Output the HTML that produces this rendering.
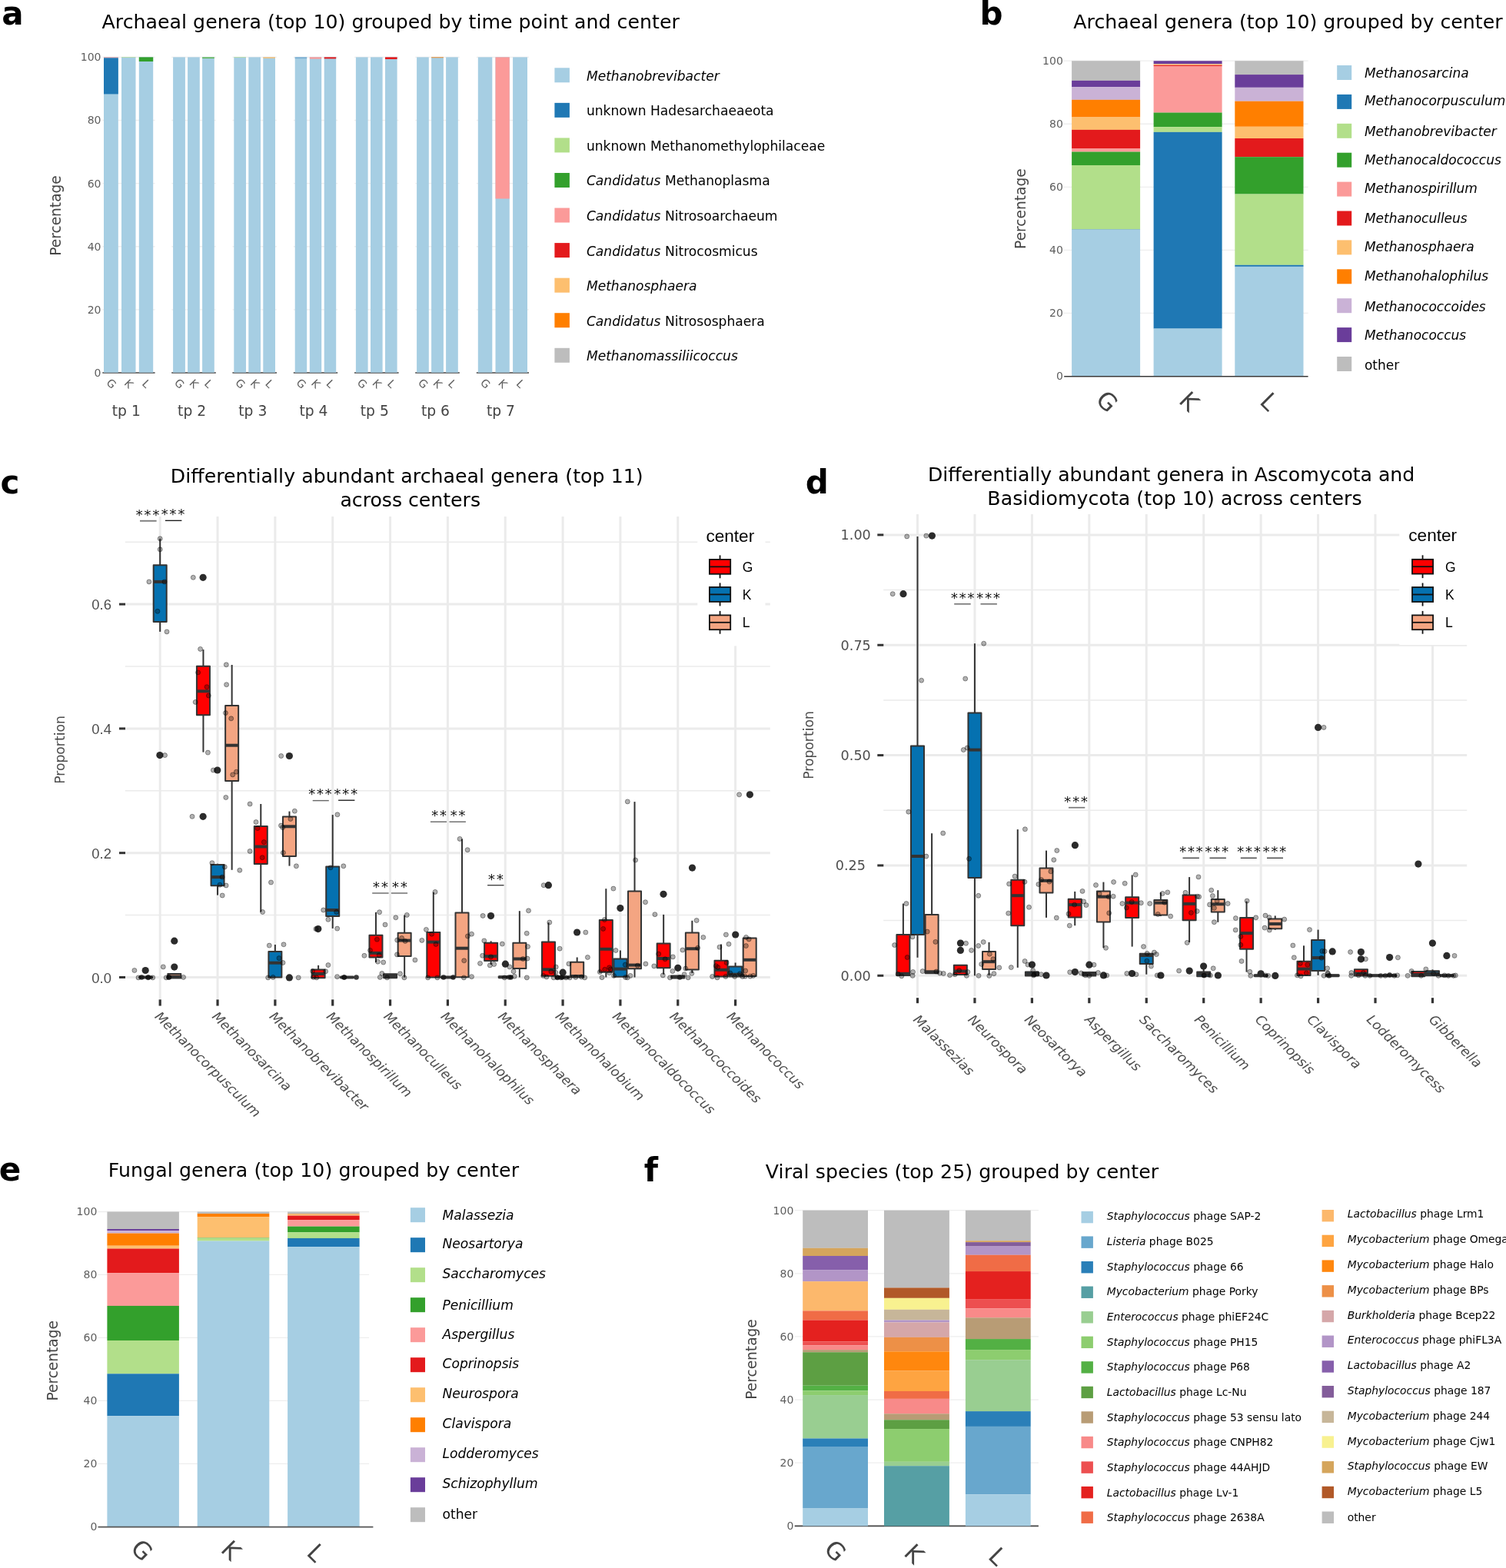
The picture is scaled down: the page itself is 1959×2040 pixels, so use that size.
<!DOCTYPE html>
<html lang="en"><head><meta charset="utf-8"><title>Figure</title>
<style>
html,body{margin:0;padding:0;background:#fff;}
body{width:1959px;height:2040px;overflow:hidden;}
svg{display:block;font-family:'DejaVu Sans','Liberation Sans',sans-serif;}
</style></head>
<body>
<svg xmlns="http://www.w3.org/2000/svg" width="1959" height="2040" viewBox="0 0 1959 2040">
<rect x="0" y="0" width="1959" height="2040" fill="#ffffff"/>
<g id="panel_a">
<text x="2.35" y="31.95" font-size="42" fill="#000" font-weight="bold">a</text>
<text x="132.55" y="37.2" font-size="25.2" fill="#000" textLength="751.3">Archaeal genera (top 10) grouped by time point and center</text>
<line x1="133.3" y1="402.88" x2="201.6" y2="402.88" stroke="#eeeeee" stroke-width="1.3"/>
<line x1="133.3" y1="320.76" x2="201.6" y2="320.76" stroke="#eeeeee" stroke-width="1.3"/>
<line x1="133.3" y1="238.64" x2="201.6" y2="238.64" stroke="#eeeeee" stroke-width="1.3"/>
<line x1="133.3" y1="156.52" x2="201.6" y2="156.52" stroke="#eeeeee" stroke-width="1.3"/>
<line x1="133.3" y1="74.4" x2="201.6" y2="74.4" stroke="#eeeeee" stroke-width="1.3"/>
<line x1="133.3" y1="485" x2="201.6" y2="485" stroke="#444444" stroke-width="1.6"/>
<line x1="223.2" y1="402.88" x2="280.8" y2="402.88" stroke="#eeeeee" stroke-width="1.3"/>
<line x1="223.2" y1="320.76" x2="280.8" y2="320.76" stroke="#eeeeee" stroke-width="1.3"/>
<line x1="223.2" y1="238.64" x2="280.8" y2="238.64" stroke="#eeeeee" stroke-width="1.3"/>
<line x1="223.2" y1="156.52" x2="280.8" y2="156.52" stroke="#eeeeee" stroke-width="1.3"/>
<line x1="223.2" y1="74.4" x2="280.8" y2="74.4" stroke="#eeeeee" stroke-width="1.3"/>
<line x1="223.2" y1="485" x2="280.8" y2="485" stroke="#444444" stroke-width="1.6"/>
<line x1="302.4" y1="402.88" x2="360" y2="402.88" stroke="#eeeeee" stroke-width="1.3"/>
<line x1="302.4" y1="320.76" x2="360" y2="320.76" stroke="#eeeeee" stroke-width="1.3"/>
<line x1="302.4" y1="238.64" x2="360" y2="238.64" stroke="#eeeeee" stroke-width="1.3"/>
<line x1="302.4" y1="156.52" x2="360" y2="156.52" stroke="#eeeeee" stroke-width="1.3"/>
<line x1="302.4" y1="74.4" x2="360" y2="74.4" stroke="#eeeeee" stroke-width="1.3"/>
<line x1="302.4" y1="485" x2="360" y2="485" stroke="#444444" stroke-width="1.6"/>
<line x1="381.8" y1="402.88" x2="439.2" y2="402.88" stroke="#eeeeee" stroke-width="1.3"/>
<line x1="381.8" y1="320.76" x2="439.2" y2="320.76" stroke="#eeeeee" stroke-width="1.3"/>
<line x1="381.8" y1="238.64" x2="439.2" y2="238.64" stroke="#eeeeee" stroke-width="1.3"/>
<line x1="381.8" y1="156.52" x2="439.2" y2="156.52" stroke="#eeeeee" stroke-width="1.3"/>
<line x1="381.8" y1="74.4" x2="439.2" y2="74.4" stroke="#eeeeee" stroke-width="1.3"/>
<line x1="381.8" y1="485" x2="439.2" y2="485" stroke="#444444" stroke-width="1.6"/>
<line x1="461" y1="402.88" x2="518.6" y2="402.88" stroke="#eeeeee" stroke-width="1.3"/>
<line x1="461" y1="320.76" x2="518.6" y2="320.76" stroke="#eeeeee" stroke-width="1.3"/>
<line x1="461" y1="238.64" x2="518.6" y2="238.64" stroke="#eeeeee" stroke-width="1.3"/>
<line x1="461" y1="156.52" x2="518.6" y2="156.52" stroke="#eeeeee" stroke-width="1.3"/>
<line x1="461" y1="74.4" x2="518.6" y2="74.4" stroke="#eeeeee" stroke-width="1.3"/>
<line x1="461" y1="485" x2="518.6" y2="485" stroke="#444444" stroke-width="1.6"/>
<line x1="540.2" y1="402.88" x2="597.8" y2="402.88" stroke="#eeeeee" stroke-width="1.3"/>
<line x1="540.2" y1="320.76" x2="597.8" y2="320.76" stroke="#eeeeee" stroke-width="1.3"/>
<line x1="540.2" y1="238.64" x2="597.8" y2="238.64" stroke="#eeeeee" stroke-width="1.3"/>
<line x1="540.2" y1="156.52" x2="597.8" y2="156.52" stroke="#eeeeee" stroke-width="1.3"/>
<line x1="540.2" y1="74.4" x2="597.8" y2="74.4" stroke="#eeeeee" stroke-width="1.3"/>
<line x1="540.2" y1="485" x2="597.8" y2="485" stroke="#444444" stroke-width="1.6"/>
<line x1="619.8" y1="402.88" x2="688" y2="402.88" stroke="#eeeeee" stroke-width="1.3"/>
<line x1="619.8" y1="320.76" x2="688" y2="320.76" stroke="#eeeeee" stroke-width="1.3"/>
<line x1="619.8" y1="238.64" x2="688" y2="238.64" stroke="#eeeeee" stroke-width="1.3"/>
<line x1="619.8" y1="156.52" x2="688" y2="156.52" stroke="#eeeeee" stroke-width="1.3"/>
<line x1="619.8" y1="74.4" x2="688" y2="74.4" stroke="#eeeeee" stroke-width="1.3"/>
<line x1="619.8" y1="485" x2="688" y2="485" stroke="#444444" stroke-width="1.6"/>
<rect x="135" y="74.4" width="18.8" height="410.3" fill="#a6cee3"/>
<rect x="135" y="74.4" width="18.8" height="1" fill="#fb9a99"/>
<rect x="135" y="75.4" width="18.8" height="47" fill="#1f78b4"/>
<rect x="158" y="74.4" width="18.5" height="410.3" fill="#a6cee3"/>
<rect x="158" y="74.4" width="18.5" height="0.6" fill="#b2df8a"/>
<rect x="180.8" y="74.4" width="18.4" height="410.3" fill="#a6cee3"/>
<rect x="180.8" y="74.4" width="18.4" height="5.6" fill="#33a02c"/>
<rect x="225.1" y="74.4" width="15.8" height="410.3" fill="#a6cee3"/>
<rect x="244.1" y="74.4" width="15.7" height="410.3" fill="#a6cee3"/>
<rect x="263.1" y="74.4" width="15.7" height="410.3" fill="#a6cee3"/>
<rect x="263.1" y="74.4" width="15.7" height="1.7" fill="#66b95e"/>
<rect x="304.3" y="74.4" width="15.7" height="410.3" fill="#a6cee3"/>
<rect x="304.3" y="74.4" width="15.7" height="0.6" fill="#b2df8a"/>
<rect x="323.3" y="74.4" width="15.7" height="410.3" fill="#a6cee3"/>
<rect x="342.3" y="74.4" width="15.7" height="410.3" fill="#a6cee3"/>
<rect x="342.3" y="74.4" width="15.7" height="1.4" fill="#fdbf6f"/>
<rect x="383.7" y="74.4" width="15.5" height="410.3" fill="#a6cee3"/>
<rect x="383.7" y="74.4" width="15.5" height="1.8" fill="#7bafd3"/>
<rect x="402.8" y="74.4" width="15.4" height="410.3" fill="#a6cee3"/>
<rect x="402.8" y="74.4" width="15.4" height="2.2" fill="#fb9a99"/>
<rect x="421.7" y="74.4" width="15.5" height="410.3" fill="#a6cee3"/>
<rect x="421.7" y="74.4" width="15.5" height="2" fill="#e31a1c"/>
<rect x="462.9" y="74.4" width="15.7" height="410.3" fill="#a6cee3"/>
<rect x="482" y="74.4" width="15.6" height="410.3" fill="#a6cee3"/>
<rect x="501" y="74.4" width="15.6" height="410.3" fill="#a6cee3"/>
<rect x="501" y="74.4" width="15.6" height="2.6" fill="#e31a1c"/>
<rect x="542.1" y="74.4" width="15.7" height="410.3" fill="#a6cee3"/>
<rect x="561.1" y="74.4" width="15.8" height="410.3" fill="#a6cee3"/>
<rect x="561.1" y="74.4" width="15.8" height="0.8" fill="#ff7f00"/>
<rect x="580.1" y="74.4" width="15.7" height="410.3" fill="#a6cee3"/>
<rect x="621.8" y="74.4" width="18.5" height="410.3" fill="#a6cee3"/>
<rect x="644.5" y="74.4" width="18.3" height="410.3" fill="#a6cee3"/>
<rect x="644.5" y="74.4" width="18.3" height="184.1" fill="#fb9a99"/>
<rect x="667.1" y="74.4" width="18.9" height="410.3" fill="#a6cee3"/>
<text x="131.5" y="489.9" font-size="14" fill="#5e5e5e" text-anchor="end">0</text>
<text x="131.5" y="407.78" font-size="14" fill="#5e5e5e" text-anchor="end">20</text>
<text x="131.5" y="325.66" font-size="14" fill="#5e5e5e" text-anchor="end">40</text>
<text x="131.5" y="243.54" font-size="14" fill="#5e5e5e" text-anchor="end">60</text>
<text x="131.5" y="161.42" font-size="14" fill="#5e5e5e" text-anchor="end">80</text>
<text x="131.5" y="79.3" font-size="14" fill="#5e5e5e" text-anchor="end">100</text>
<text transform="translate(72.6,280.5) rotate(-90)" font-size="18.6" fill="#444" text-anchor="middle" dy="6.5">Percentage</text>
<text x="164.3" y="541.2" font-size="18.7" fill="#444" text-anchor="middle">tp 1</text>
<text x="249.6" y="541.2" font-size="18.7" fill="#444" text-anchor="middle">tp 2</text>
<text x="328.8" y="541.2" font-size="18.7" fill="#444" text-anchor="middle">tp 3</text>
<text x="408" y="541.2" font-size="18.7" fill="#444" text-anchor="middle">tp 4</text>
<text x="487.3" y="541.2" font-size="18.7" fill="#444" text-anchor="middle">tp 5</text>
<text x="566.5" y="541.2" font-size="18.7" fill="#444" text-anchor="middle">tp 6</text>
<text x="651.4" y="541.2" font-size="18.7" fill="#444" text-anchor="middle">tp 7</text>
<text transform="translate(144.9,499.1) rotate(45)" font-size="14.2" fill="#5e5e5e" text-anchor="middle" dy="5.1">G</text>
<text transform="translate(167.75,499.1) rotate(45)" font-size="14.2" fill="#5e5e5e" text-anchor="middle" dy="5.1">K</text>
<text transform="translate(190.5,499.1) rotate(45)" font-size="14.2" fill="#5e5e5e" text-anchor="middle" dy="5.1">L</text>
<text transform="translate(233.5,499.1) rotate(45)" font-size="14.2" fill="#5e5e5e" text-anchor="middle" dy="5.1">G</text>
<text transform="translate(252.45,499.1) rotate(45)" font-size="14.2" fill="#5e5e5e" text-anchor="middle" dy="5.1">K</text>
<text transform="translate(271.45,499.1) rotate(45)" font-size="14.2" fill="#5e5e5e" text-anchor="middle" dy="5.1">L</text>
<text transform="translate(312.65,499.1) rotate(45)" font-size="14.2" fill="#5e5e5e" text-anchor="middle" dy="5.1">G</text>
<text transform="translate(331.65,499.1) rotate(45)" font-size="14.2" fill="#5e5e5e" text-anchor="middle" dy="5.1">K</text>
<text transform="translate(350.65,499.1) rotate(45)" font-size="14.2" fill="#5e5e5e" text-anchor="middle" dy="5.1">L</text>
<text transform="translate(391.95,499.1) rotate(45)" font-size="14.2" fill="#5e5e5e" text-anchor="middle" dy="5.1">G</text>
<text transform="translate(411,499.1) rotate(45)" font-size="14.2" fill="#5e5e5e" text-anchor="middle" dy="5.1">K</text>
<text transform="translate(429.95,499.1) rotate(45)" font-size="14.2" fill="#5e5e5e" text-anchor="middle" dy="5.1">L</text>
<text transform="translate(471.25,499.1) rotate(45)" font-size="14.2" fill="#5e5e5e" text-anchor="middle" dy="5.1">G</text>
<text transform="translate(490.3,499.1) rotate(45)" font-size="14.2" fill="#5e5e5e" text-anchor="middle" dy="5.1">K</text>
<text transform="translate(509.3,499.1) rotate(45)" font-size="14.2" fill="#5e5e5e" text-anchor="middle" dy="5.1">L</text>
<text transform="translate(550.45,499.1) rotate(45)" font-size="14.2" fill="#5e5e5e" text-anchor="middle" dy="5.1">G</text>
<text transform="translate(569.5,499.1) rotate(45)" font-size="14.2" fill="#5e5e5e" text-anchor="middle" dy="5.1">K</text>
<text transform="translate(588.45,499.1) rotate(45)" font-size="14.2" fill="#5e5e5e" text-anchor="middle" dy="5.1">L</text>
<text transform="translate(631.55,499.1) rotate(45)" font-size="14.2" fill="#5e5e5e" text-anchor="middle" dy="5.1">G</text>
<text transform="translate(654.15,499.1) rotate(45)" font-size="14.2" fill="#5e5e5e" text-anchor="middle" dy="5.1">K</text>
<text transform="translate(677.05,499.1) rotate(45)" font-size="14.2" fill="#5e5e5e" text-anchor="middle" dy="5.1">L</text>
<rect x="721.4" y="88.3" width="19.5" height="19" fill="#a6cee3"/>
<text x="762.9" y="104.7" font-size="17.1" fill="#000" xml:space="preserve"><tspan font-style="italic">Methanobrevibacter</tspan></text>
<rect x="721.4" y="133.86" width="19.5" height="19" fill="#1f78b4"/>
<text x="762.9" y="150.26" font-size="17.1" fill="#000" xml:space="preserve">unknown Hadesarchaeaeota</text>
<rect x="721.4" y="179.42" width="19.5" height="19" fill="#b2df8a"/>
<text x="762.9" y="195.82" font-size="17.1" fill="#000" xml:space="preserve">unknown Methanomethylophilaceae</text>
<rect x="721.4" y="224.98" width="19.5" height="19" fill="#33a02c"/>
<text x="762.9" y="241.38" font-size="17.1" fill="#000" xml:space="preserve"><tspan font-style="italic">Candidatus</tspan> Methanoplasma</text>
<rect x="721.4" y="270.54" width="19.5" height="19" fill="#fb9a99"/>
<text x="762.9" y="286.94" font-size="17.1" fill="#000" xml:space="preserve"><tspan font-style="italic">Candidatus</tspan> Nitrosoarchaeum</text>
<rect x="721.4" y="316.1" width="19.5" height="19" fill="#e31a1c"/>
<text x="762.9" y="332.5" font-size="17.1" fill="#000" xml:space="preserve"><tspan font-style="italic">Candidatus</tspan> Nitrocosmicus</text>
<rect x="721.4" y="361.66" width="19.5" height="19" fill="#fdbf6f"/>
<text x="762.9" y="378.06" font-size="17.1" fill="#000" xml:space="preserve"><tspan font-style="italic">Methanosphaera</tspan></text>
<rect x="721.4" y="407.22" width="19.5" height="19" fill="#ff7f00"/>
<text x="762.9" y="423.62" font-size="17.1" fill="#000" xml:space="preserve"><tspan font-style="italic">Candidatus</tspan> Nitrososphaera</text>
<rect x="721.4" y="452.78" width="19.5" height="19" fill="#bdbdbd"/>
<text x="762.9" y="469.18" font-size="17.1" fill="#000" xml:space="preserve"><tspan font-style="italic">Methanomassiliicoccus</tspan></text>
</g>
<g id="panel_b">
<text x="1274.47" y="31.95" font-size="42" fill="#000" font-weight="bold">b</text>
<text x="1396.3" y="37.2" font-size="25.2" fill="#000" textLength="558.4">Archaeal genera (top 10) grouped by center</text>
<line x1="1384.2" y1="407.36" x2="1701.6" y2="407.36" stroke="#eeeeee" stroke-width="1.3"/>
<line x1="1384.2" y1="325.32" x2="1701.6" y2="325.32" stroke="#eeeeee" stroke-width="1.3"/>
<line x1="1384.2" y1="243.28" x2="1701.6" y2="243.28" stroke="#eeeeee" stroke-width="1.3"/>
<line x1="1384.2" y1="161.24" x2="1701.6" y2="161.24" stroke="#eeeeee" stroke-width="1.3"/>
<line x1="1384.2" y1="79.2" x2="1701.6" y2="79.2" stroke="#eeeeee" stroke-width="1.3"/>
<rect x="1394.1" y="79.22" width="89" height="25.71" fill="#bdbdbd"/>
<rect x="1394.1" y="104.89" width="89" height="8.23" fill="#6a3d9a"/>
<rect x="1394.1" y="113.07" width="89" height="16.79" fill="#cab2d6"/>
<rect x="1394.1" y="129.81" width="89" height="22.74" fill="#ff7f00"/>
<rect x="1394.1" y="152.5" width="89" height="16.42" fill="#fdbf6f"/>
<rect x="1394.1" y="168.86" width="89" height="24.6" fill="#e31a1c"/>
<rect x="1394.1" y="193.41" width="89" height="4.14" fill="#fb9a99"/>
<rect x="1394.1" y="197.5" width="89" height="17.53" fill="#33a02c"/>
<rect x="1394.1" y="214.98" width="89" height="83.48" fill="#b2df8a"/>
<rect x="1394.1" y="298.41" width="89" height="0.42" fill="#1f78b4"/>
<rect x="1394.1" y="298.78" width="89" height="190.74" fill="#a6cee3"/>
<rect x="1500.6" y="79.22" width="89" height="4.14" fill="#6a3d9a"/>
<rect x="1500.6" y="83.31" width="89" height="1.46" fill="#fdbf6f"/>
<rect x="1500.6" y="84.73" width="89" height="1.24" fill="#e31a1c"/>
<rect x="1500.6" y="85.92" width="89" height="60.68" fill="#fb9a99"/>
<rect x="1500.6" y="146.54" width="89" height="18.65" fill="#33a02c"/>
<rect x="1500.6" y="165.14" width="89" height="6.74" fill="#b2df8a"/>
<rect x="1500.6" y="171.84" width="89" height="255.76" fill="#1f78b4"/>
<rect x="1500.6" y="427.55" width="89" height="61.98" fill="#a6cee3"/>
<rect x="1606.3" y="79.22" width="89.2" height="17.9" fill="#bdbdbd"/>
<rect x="1606.3" y="97.08" width="89.2" height="16.79" fill="#6a3d9a"/>
<rect x="1606.3" y="113.81" width="89.2" height="17.9" fill="#cab2d6"/>
<rect x="1606.3" y="131.67" width="89.2" height="33.15" fill="#ff7f00"/>
<rect x="1606.3" y="164.77" width="89.2" height="15.3" fill="#fdbf6f"/>
<rect x="1606.3" y="180.02" width="89.2" height="24.23" fill="#e31a1c"/>
<rect x="1606.3" y="204.2" width="89.2" height="48.4" fill="#33a02c"/>
<rect x="1606.3" y="252.55" width="89.2" height="92.29" fill="#b2df8a"/>
<rect x="1606.3" y="344.79" width="89.2" height="2.1" fill="#1f78b4"/>
<rect x="1606.3" y="346.83" width="89.2" height="142.69" fill="#a6cee3"/>
<line x1="1384.2" y1="489.7" x2="1701.6" y2="489.7" stroke="#3a3a3a" stroke-width="1.4"/>
<text x="1382.8" y="494.3" font-size="14" fill="#5e5e5e" text-anchor="end">0</text>
<text x="1382.8" y="412.26" font-size="14" fill="#5e5e5e" text-anchor="end">20</text>
<text x="1382.8" y="330.22" font-size="14" fill="#5e5e5e" text-anchor="end">40</text>
<text x="1382.8" y="248.18" font-size="14" fill="#5e5e5e" text-anchor="end">60</text>
<text x="1382.8" y="166.14" font-size="14" fill="#5e5e5e" text-anchor="end">80</text>
<text x="1382.8" y="84.1" font-size="14" fill="#5e5e5e" text-anchor="end">100</text>
<text transform="translate(1327,271.6) rotate(-90)" font-size="18.6" fill="#444" text-anchor="middle" dy="6.5">Percentage</text>
<text transform="translate(1440.5,522) rotate(45)" font-size="31" fill="#444" text-anchor="middle" dy="11.3">G</text>
<text transform="translate(1547.1,522) rotate(45)" font-size="31" fill="#444" text-anchor="middle" dy="11.3">K</text>
<text transform="translate(1651.3,522) rotate(45)" font-size="31" fill="#444" text-anchor="middle" dy="11.3">L</text>
<rect x="1739.2" y="85" width="19" height="19" fill="#a6cee3"/>
<text x="1774.9" y="100.75" font-size="17" fill="#000" font-style="italic">Methanosarcina</text>
<rect x="1739.2" y="122.9" width="19" height="19" fill="#1f78b4"/>
<text x="1774.9" y="136.8" font-size="17" fill="#000" font-style="italic">Methanocorpusculum</text>
<rect x="1739.2" y="160.8" width="19" height="19" fill="#b2df8a"/>
<text x="1774.9" y="176.8" font-size="17" fill="#000" font-style="italic">Methanobrevibacter</text>
<rect x="1739.2" y="198.7" width="19" height="19" fill="#33a02c"/>
<text x="1774.9" y="214.45" font-size="17" fill="#000" font-style="italic">Methanocaldococcus</text>
<rect x="1739.2" y="236.6" width="19" height="19" fill="#fb9a99"/>
<text x="1774.9" y="250.5" font-size="17" fill="#000" font-style="italic">Methanospirillum</text>
<rect x="1739.2" y="274.5" width="19" height="19" fill="#e31a1c"/>
<text x="1774.9" y="289.9" font-size="17" fill="#000" font-style="italic">Methanoculleus</text>
<rect x="1739.2" y="312.4" width="19" height="19" fill="#fdbf6f"/>
<text x="1774.9" y="327.2" font-size="17" fill="#000" font-style="italic">Methanosphaera</text>
<rect x="1739.2" y="350.3" width="19" height="19" fill="#ff7f00"/>
<text x="1774.9" y="365.4" font-size="17" fill="#000" font-style="italic">Methanohalophilus</text>
<rect x="1739.2" y="388.2" width="19" height="19" fill="#cab2d6"/>
<text x="1774.9" y="404.8" font-size="17" fill="#000" font-style="italic">Methanococcoides</text>
<rect x="1739.2" y="426.1" width="19" height="19" fill="#6a3d9a"/>
<text x="1774.9" y="442.2" font-size="17" fill="#000" font-style="italic">Methanococcus</text>
<rect x="1739.2" y="464" width="19" height="19" fill="#bdbdbd"/>
<text x="1774.9" y="481.2" font-size="17" fill="#000">other</text>
</g>
<g id="panel_c">
<text x="0.6" y="642.05" font-size="42" fill="#000" font-weight="bold">c</text>
<text x="221.73" y="628.4" font-size="25.2" fill="#000" textLength="614.94">Differentially abundant archaeal genera (top 11)</text>
<text x="442.39" y="659.3" font-size="25.2" fill="#000" textLength="182.64">across centers</text>
<line x1="162.8" y1="1190.6" x2="1001.8" y2="1190.6" stroke="#ebebeb" stroke-width="1.5"/>
<line x1="162.8" y1="1028.8" x2="1001.8" y2="1028.8" stroke="#ebebeb" stroke-width="1.5"/>
<line x1="162.8" y1="867" x2="1001.8" y2="867" stroke="#ebebeb" stroke-width="1.5"/>
<line x1="162.8" y1="705.2" x2="1001.8" y2="705.2" stroke="#ebebeb" stroke-width="1.5"/>
<line x1="162.8" y1="1271.5" x2="1001.8" y2="1271.5" stroke="#ebebeb" stroke-width="3"/>
<line x1="162.8" y1="1109.7" x2="1001.8" y2="1109.7" stroke="#ebebeb" stroke-width="3"/>
<line x1="162.8" y1="947.9" x2="1001.8" y2="947.9" stroke="#ebebeb" stroke-width="3"/>
<line x1="162.8" y1="786.1" x2="1001.8" y2="786.1" stroke="#ebebeb" stroke-width="3"/>
<line x1="208.2" y1="671.9" x2="208.2" y2="1299.8" stroke="#ebebeb" stroke-width="3"/>
<line x1="283.04" y1="671.9" x2="283.04" y2="1299.8" stroke="#ebebeb" stroke-width="3"/>
<line x1="357.88" y1="671.9" x2="357.88" y2="1299.8" stroke="#ebebeb" stroke-width="3"/>
<line x1="432.72" y1="671.9" x2="432.72" y2="1299.8" stroke="#ebebeb" stroke-width="3"/>
<line x1="507.56" y1="671.9" x2="507.56" y2="1299.8" stroke="#ebebeb" stroke-width="3"/>
<line x1="582.4" y1="671.9" x2="582.4" y2="1299.8" stroke="#ebebeb" stroke-width="3"/>
<line x1="657.24" y1="671.9" x2="657.24" y2="1299.8" stroke="#ebebeb" stroke-width="3"/>
<line x1="732.08" y1="671.9" x2="732.08" y2="1299.8" stroke="#ebebeb" stroke-width="3"/>
<line x1="806.92" y1="671.9" x2="806.92" y2="1299.8" stroke="#ebebeb" stroke-width="3"/>
<line x1="881.76" y1="671.9" x2="881.76" y2="1299.8" stroke="#ebebeb" stroke-width="3"/>
<line x1="956.6" y1="671.9" x2="956.6" y2="1299.8" stroke="#ebebeb" stroke-width="3"/>
<line x1="155" y1="1271.5" x2="163" y2="1271.5" stroke="#333333" stroke-width="3"/>
<text x="144.9" y="1278.7" font-size="18.4" fill="#4d4d4d" text-anchor="end" font-family="'Liberation Sans','DejaVu Sans',sans-serif">0.0</text>
<line x1="155" y1="1109.7" x2="163" y2="1109.7" stroke="#333333" stroke-width="3"/>
<text x="144.9" y="1116.9" font-size="18.4" fill="#4d4d4d" text-anchor="end" font-family="'Liberation Sans','DejaVu Sans',sans-serif">0.2</text>
<line x1="155" y1="947.9" x2="163" y2="947.9" stroke="#333333" stroke-width="3"/>
<text x="144.9" y="955.1" font-size="18.4" fill="#4d4d4d" text-anchor="end" font-family="'Liberation Sans','DejaVu Sans',sans-serif">0.4</text>
<line x1="155" y1="786.1" x2="163" y2="786.1" stroke="#333333" stroke-width="3"/>
<text x="144.9" y="793.3" font-size="18.4" fill="#4d4d4d" text-anchor="end" font-family="'Liberation Sans','DejaVu Sans',sans-serif">0.6</text>
<line x1="208.2" y1="1300.4" x2="208.2" y2="1308.6" stroke="#333333" stroke-width="3.2"/>
<line x1="283.04" y1="1300.4" x2="283.04" y2="1308.6" stroke="#333333" stroke-width="3.2"/>
<line x1="357.88" y1="1300.4" x2="357.88" y2="1308.6" stroke="#333333" stroke-width="3.2"/>
<line x1="432.72" y1="1300.4" x2="432.72" y2="1308.6" stroke="#333333" stroke-width="3.2"/>
<line x1="507.56" y1="1300.4" x2="507.56" y2="1308.6" stroke="#333333" stroke-width="3.2"/>
<line x1="582.4" y1="1300.4" x2="582.4" y2="1308.6" stroke="#333333" stroke-width="3.2"/>
<line x1="657.24" y1="1300.4" x2="657.24" y2="1308.6" stroke="#333333" stroke-width="3.2"/>
<line x1="732.08" y1="1300.4" x2="732.08" y2="1308.6" stroke="#333333" stroke-width="3.2"/>
<line x1="806.92" y1="1300.4" x2="806.92" y2="1308.6" stroke="#333333" stroke-width="3.2"/>
<line x1="881.76" y1="1300.4" x2="881.76" y2="1308.6" stroke="#333333" stroke-width="3.2"/>
<line x1="956.6" y1="1300.4" x2="956.6" y2="1308.6" stroke="#333333" stroke-width="3.2"/>
<text transform="translate(78,975.5) rotate(-90)" font-size="17.2" fill="#4d4d4d" text-anchor="middle" dy="6.2">Proportion</text>
<text transform="translate(200.6,1323.5) rotate(45)" font-size="17.2" fill="#4d4d4d" font-style="italic" dy="0">Methanocorpusculum</text>
<text transform="translate(275,1323.5) rotate(45)" font-size="17.2" fill="#4d4d4d" font-style="italic" dy="0">Methanosarcina</text>
<text transform="translate(349.4,1323.5) rotate(45)" font-size="17.2" fill="#4d4d4d" font-style="italic" dy="0">Methanobrevibacter</text>
<text transform="translate(423.8,1323.5) rotate(45)" font-size="17.2" fill="#4d4d4d" font-style="italic" dy="0">Methanospirillum</text>
<text transform="translate(498.2,1323.5) rotate(45)" font-size="17.2" fill="#4d4d4d" font-style="italic" dy="0">Methanoculleus</text>
<text transform="translate(572.6,1323.5) rotate(45)" font-size="17.2" fill="#4d4d4d" font-style="italic" dy="0">Methanohalophilus</text>
<text transform="translate(647,1323.5) rotate(45)" font-size="17.2" fill="#4d4d4d" font-style="italic" dy="0">Methanosphaera</text>
<text transform="translate(721.4,1323.5) rotate(45)" font-size="17.2" fill="#4d4d4d" font-style="italic" dy="0">Methanohalobium</text>
<text transform="translate(795.8,1323.5) rotate(45)" font-size="17.2" fill="#4d4d4d" font-style="italic" dy="0">Methanocaldococcus</text>
<text transform="translate(870.2,1323.5) rotate(45)" font-size="17.2" fill="#4d4d4d" font-style="italic" dy="0">Methanococcoides</text>
<text transform="translate(944.6,1323.5) rotate(45)" font-size="17.2" fill="#4d4d4d" font-style="italic" dy="0">Methanococcus</text>
<rect x="181.1" y="1270.9" width="17" height="1.2" fill="#ff0000" stroke="#333333" stroke-width="2" stroke-linejoin="round"/>
<line x1="181.1" y1="1271.5" x2="198.1" y2="1271.5" stroke="#333333" stroke-width="4"/>
<line x1="208.2" y1="700.8" x2="208.2" y2="735.3" stroke="#333333" stroke-width="2"/>
<line x1="208.2" y1="809.1" x2="208.2" y2="821.9" stroke="#333333" stroke-width="2"/>
<rect x="199.7" y="735.3" width="17" height="73.8" fill="#0571b0" stroke="#333333" stroke-width="2" stroke-linejoin="round"/>
<line x1="199.7" y1="756.9" x2="216.7" y2="756.9" stroke="#333333" stroke-width="4"/>
<rect x="218.3" y="1267" width="17" height="5.6" fill="#f4a582" stroke="#333333" stroke-width="2" stroke-linejoin="round"/>
<line x1="218.3" y1="1270.6" x2="235.3" y2="1270.6" stroke="#333333" stroke-width="4"/>
<line x1="264.44" y1="845.1" x2="264.44" y2="866.8" stroke="#333333" stroke-width="2"/>
<line x1="264.44" y1="930.3" x2="264.44" y2="978.6" stroke="#333333" stroke-width="2"/>
<rect x="255.94" y="866.8" width="17" height="63.5" fill="#ff0000" stroke="#333333" stroke-width="2" stroke-linejoin="round"/>
<line x1="255.94" y1="899.3" x2="272.94" y2="899.3" stroke="#333333" stroke-width="4"/>
<line x1="283.04" y1="1123.7" x2="283.04" y2="1124.9" stroke="#333333" stroke-width="2"/>
<line x1="283.04" y1="1152.2" x2="283.04" y2="1164.6" stroke="#333333" stroke-width="2"/>
<rect x="274.54" y="1124.9" width="17" height="27.3" fill="#0571b0" stroke="#333333" stroke-width="2" stroke-linejoin="round"/>
<line x1="274.54" y1="1141.1" x2="291.54" y2="1141.1" stroke="#333333" stroke-width="4"/>
<line x1="301.64" y1="865" x2="301.64" y2="918" stroke="#333333" stroke-width="2"/>
<line x1="301.64" y1="1016" x2="301.64" y2="1131.8" stroke="#333333" stroke-width="2"/>
<rect x="293.14" y="918" width="17" height="98" fill="#f4a582" stroke="#333333" stroke-width="2" stroke-linejoin="round"/>
<line x1="293.14" y1="969.7" x2="310.14" y2="969.7" stroke="#333333" stroke-width="4"/>
<line x1="339.28" y1="1046" x2="339.28" y2="1074.9" stroke="#333333" stroke-width="2"/>
<line x1="339.28" y1="1124.1" x2="339.28" y2="1186.5" stroke="#333333" stroke-width="2"/>
<rect x="330.78" y="1074.9" width="17" height="49.2" fill="#ff0000" stroke="#333333" stroke-width="2" stroke-linejoin="round"/>
<line x1="330.78" y1="1101.5" x2="347.78" y2="1101.5" stroke="#333333" stroke-width="4"/>
<line x1="357.88" y1="1229" x2="357.88" y2="1237.9" stroke="#333333" stroke-width="2"/>
<rect x="349.38" y="1237.9" width="17" height="33.7" fill="#0571b0" stroke="#333333" stroke-width="2" stroke-linejoin="round"/>
<line x1="349.38" y1="1252.7" x2="366.38" y2="1252.7" stroke="#333333" stroke-width="4"/>
<line x1="376.48" y1="1055.6" x2="376.48" y2="1062.6" stroke="#333333" stroke-width="2"/>
<line x1="376.48" y1="1114.1" x2="376.48" y2="1126.6" stroke="#333333" stroke-width="2"/>
<rect x="367.98" y="1062.6" width="17" height="51.5" fill="#f4a582" stroke="#333333" stroke-width="2" stroke-linejoin="round"/>
<line x1="367.98" y1="1075.3" x2="384.98" y2="1075.3" stroke="#333333" stroke-width="4"/>
<line x1="414.12" y1="1255.9" x2="414.12" y2="1261.6" stroke="#333333" stroke-width="2"/>
<rect x="405.62" y="1261.6" width="17" height="10.6" fill="#ff0000" stroke="#333333" stroke-width="2" stroke-linejoin="round"/>
<line x1="405.62" y1="1267" x2="422.62" y2="1267" stroke="#333333" stroke-width="4"/>
<line x1="432.72" y1="1060.1" x2="432.72" y2="1127.4" stroke="#333333" stroke-width="2"/>
<line x1="432.72" y1="1191.9" x2="432.72" y2="1207.9" stroke="#333333" stroke-width="2"/>
<rect x="424.22" y="1127.4" width="17" height="64.5" fill="#0571b0" stroke="#333333" stroke-width="2" stroke-linejoin="round"/>
<line x1="424.22" y1="1184" x2="441.22" y2="1184" stroke="#333333" stroke-width="4"/>
<rect x="442.82" y="1270.9" width="17" height="1.2" fill="#f4a582" stroke="#333333" stroke-width="2" stroke-linejoin="round"/>
<line x1="442.82" y1="1271.5" x2="459.82" y2="1271.5" stroke="#333333" stroke-width="4"/>
<line x1="488.96" y1="1186.9" x2="488.96" y2="1216.8" stroke="#333333" stroke-width="2"/>
<line x1="488.96" y1="1245.6" x2="488.96" y2="1252" stroke="#333333" stroke-width="2"/>
<rect x="480.46" y="1216.8" width="17" height="28.8" fill="#ff0000" stroke="#333333" stroke-width="2" stroke-linejoin="round"/>
<line x1="480.46" y1="1239.9" x2="497.46" y2="1239.9" stroke="#333333" stroke-width="4"/>
<rect x="499.06" y="1267.2" width="17" height="5" fill="#0571b0" stroke="#333333" stroke-width="2" stroke-linejoin="round"/>
<line x1="499.06" y1="1270" x2="516.06" y2="1270" stroke="#333333" stroke-width="4"/>
<line x1="526.16" y1="1190.7" x2="526.16" y2="1213.8" stroke="#333333" stroke-width="2"/>
<line x1="526.16" y1="1243.9" x2="526.16" y2="1271.5" stroke="#333333" stroke-width="2"/>
<rect x="517.66" y="1213.8" width="17" height="30.1" fill="#f4a582" stroke="#333333" stroke-width="2" stroke-linejoin="round"/>
<line x1="517.66" y1="1223.6" x2="534.66" y2="1223.6" stroke="#333333" stroke-width="4"/>
<line x1="563.8" y1="1160.8" x2="563.8" y2="1213" stroke="#333333" stroke-width="2"/>
<rect x="555.3" y="1213" width="17" height="58.6" fill="#ff0000" stroke="#333333" stroke-width="2" stroke-linejoin="round"/>
<line x1="555.3" y1="1225.6" x2="572.3" y2="1225.6" stroke="#333333" stroke-width="4"/>
<rect x="573.9" y="1270.9" width="17" height="1.2" fill="#0571b0" stroke="#333333" stroke-width="2" stroke-linejoin="round"/>
<line x1="573.9" y1="1271.5" x2="590.9" y2="1271.5" stroke="#333333" stroke-width="4"/>
<line x1="601" y1="1091.4" x2="601" y2="1187.4" stroke="#333333" stroke-width="2"/>
<rect x="592.5" y="1187.4" width="17" height="83.8" fill="#f4a582" stroke="#333333" stroke-width="2" stroke-linejoin="round"/>
<line x1="592.5" y1="1233.7" x2="609.5" y2="1233.7" stroke="#333333" stroke-width="4"/>
<line x1="638.64" y1="1224.4" x2="638.64" y2="1226.8" stroke="#333333" stroke-width="2"/>
<line x1="638.64" y1="1250" x2="638.64" y2="1255" stroke="#333333" stroke-width="2"/>
<rect x="630.14" y="1226.8" width="17" height="23.2" fill="#ff0000" stroke="#333333" stroke-width="2" stroke-linejoin="round"/>
<line x1="630.14" y1="1244.1" x2="647.14" y2="1244.1" stroke="#333333" stroke-width="4"/>
<rect x="648.74" y="1270.6" width="17" height="1.5" fill="#0571b0" stroke="#333333" stroke-width="2" stroke-linejoin="round"/>
<line x1="648.74" y1="1271.3" x2="665.74" y2="1271.3" stroke="#333333" stroke-width="4"/>
<line x1="675.84" y1="1185.2" x2="675.84" y2="1226.8" stroke="#333333" stroke-width="2"/>
<line x1="675.84" y1="1260.1" x2="675.84" y2="1271.5" stroke="#333333" stroke-width="2"/>
<rect x="667.34" y="1226.8" width="17" height="33.3" fill="#f4a582" stroke="#333333" stroke-width="2" stroke-linejoin="round"/>
<line x1="667.34" y1="1247.5" x2="684.34" y2="1247.5" stroke="#333333" stroke-width="4"/>
<line x1="713.48" y1="1200.3" x2="713.48" y2="1225.4" stroke="#333333" stroke-width="2"/>
<rect x="704.98" y="1225.4" width="17" height="44.4" fill="#ff0000" stroke="#333333" stroke-width="2" stroke-linejoin="round"/>
<line x1="704.98" y1="1261.3" x2="721.98" y2="1261.3" stroke="#333333" stroke-width="4"/>
<rect x="723.58" y="1270.9" width="17" height="1.2" fill="#0571b0" stroke="#333333" stroke-width="2" stroke-linejoin="round"/>
<line x1="723.58" y1="1271.5" x2="740.58" y2="1271.5" stroke="#333333" stroke-width="4"/>
<line x1="750.68" y1="1245.5" x2="750.68" y2="1251.7" stroke="#333333" stroke-width="2"/>
<rect x="742.18" y="1251.7" width="17" height="19.5" fill="#f4a582" stroke="#333333" stroke-width="2" stroke-linejoin="round"/>
<line x1="742.18" y1="1270" x2="759.18" y2="1270" stroke="#333333" stroke-width="4"/>
<line x1="788.32" y1="1156.2" x2="788.32" y2="1197" stroke="#333333" stroke-width="2"/>
<line x1="788.32" y1="1264.8" x2="788.32" y2="1271.5" stroke="#333333" stroke-width="2"/>
<rect x="779.82" y="1197" width="17" height="67.8" fill="#ff0000" stroke="#333333" stroke-width="2" stroke-linejoin="round"/>
<line x1="779.82" y1="1234.8" x2="796.82" y2="1234.8" stroke="#333333" stroke-width="4"/>
<line x1="806.92" y1="1236.5" x2="806.92" y2="1247.5" stroke="#333333" stroke-width="2"/>
<rect x="798.42" y="1247.5" width="17" height="23.3" fill="#0571b0" stroke="#333333" stroke-width="2" stroke-linejoin="round"/>
<line x1="798.42" y1="1260.6" x2="815.42" y2="1260.6" stroke="#333333" stroke-width="4"/>
<line x1="825.52" y1="1043.1" x2="825.52" y2="1159.4" stroke="#333333" stroke-width="2"/>
<line x1="825.52" y1="1260.3" x2="825.52" y2="1271.5" stroke="#333333" stroke-width="2"/>
<rect x="817.02" y="1159.4" width="17" height="100.9" fill="#f4a582" stroke="#333333" stroke-width="2" stroke-linejoin="round"/>
<line x1="817.02" y1="1255.6" x2="834.02" y2="1255.6" stroke="#333333" stroke-width="4"/>
<line x1="863.16" y1="1189.9" x2="863.16" y2="1227.6" stroke="#333333" stroke-width="2"/>
<line x1="863.16" y1="1259.3" x2="863.16" y2="1267.7" stroke="#333333" stroke-width="2"/>
<rect x="854.66" y="1227.6" width="17" height="31.7" fill="#ff0000" stroke="#333333" stroke-width="2" stroke-linejoin="round"/>
<line x1="854.66" y1="1247" x2="871.66" y2="1247" stroke="#333333" stroke-width="4"/>
<rect x="873.26" y="1269.6" width="17" height="3" fill="#0571b0" stroke="#333333" stroke-width="2" stroke-linejoin="round"/>
<line x1="873.26" y1="1271.2" x2="890.26" y2="1271.2" stroke="#333333" stroke-width="4"/>
<line x1="900.36" y1="1197.8" x2="900.36" y2="1213.6" stroke="#333333" stroke-width="2"/>
<line x1="900.36" y1="1261.4" x2="900.36" y2="1266" stroke="#333333" stroke-width="2"/>
<rect x="891.86" y="1213.6" width="17" height="47.8" fill="#f4a582" stroke="#333333" stroke-width="2" stroke-linejoin="round"/>
<line x1="891.86" y1="1234.3" x2="908.86" y2="1234.3" stroke="#333333" stroke-width="4"/>
<line x1="938" y1="1228.5" x2="938" y2="1249.8" stroke="#333333" stroke-width="2"/>
<rect x="929.5" y="1249.8" width="17" height="20.6" fill="#ff0000" stroke="#333333" stroke-width="2" stroke-linejoin="round"/>
<line x1="929.5" y1="1261.8" x2="946.5" y2="1261.8" stroke="#333333" stroke-width="4"/>
<line x1="956.6" y1="1252.5" x2="956.6" y2="1257.6" stroke="#333333" stroke-width="2"/>
<rect x="948.1" y="1257.6" width="17" height="12.8" fill="#0571b0" stroke="#333333" stroke-width="2" stroke-linejoin="round"/>
<line x1="948.1" y1="1267.7" x2="965.1" y2="1267.7" stroke="#333333" stroke-width="4"/>
<rect x="966.7" y="1220.5" width="17" height="49.5" fill="#f4a582" stroke="#333333" stroke-width="2" stroke-linejoin="round"/>
<line x1="966.7" y1="1248.8" x2="983.7" y2="1248.8" stroke="#333333" stroke-width="4"/>
<g fill="#2b2b2b">
<circle cx="264.1" cy="751.3" r="4.6"/>
<circle cx="207.9" cy="982.6" r="4.6"/>
<circle cx="376.4" cy="983.5" r="4.6"/>
<circle cx="282.8" cy="1002" r="4.6"/>
<circle cx="264.1" cy="1062.3" r="4.6"/>
<circle cx="376.4" cy="1271.9" r="4.6"/>
<circle cx="189.2" cy="1262.5" r="4.6"/>
<circle cx="226.8" cy="1224.2" r="4.6"/>
<circle cx="226.8" cy="1258.1" r="4.6"/>
<circle cx="413.8" cy="1208.6" r="4.6"/>
<circle cx="638.5" cy="1191.6" r="4.6"/>
<circle cx="657.4" cy="1254.2" r="4.6"/>
<circle cx="713.4" cy="1151.7" r="4.6"/>
<circle cx="732.1" cy="1265.2" r="4.6"/>
<circle cx="750.6" cy="1213" r="4.6"/>
<circle cx="806.9" cy="1181.6" r="4.6"/>
<circle cx="863" cy="1163.3" r="4.6"/>
<circle cx="881.8" cy="1259.3" r="4.6"/>
<circle cx="900.5" cy="1129.1" r="4.6"/>
<circle cx="956.7" cy="1216" r="4.6"/>
<circle cx="975.4" cy="1033.8" r="4.6"/>
</g>
<g fill="#1a1a1a" fill-opacity="0.85">
<circle cx="184.2" cy="1271.5" r="3.3"/>
<circle cx="193" cy="1271.5" r="3.3"/>
<circle cx="219.5" cy="1271.5" r="3.3"/>
<circle cx="447.5" cy="1271.5" r="3.3"/>
<circle cx="463.5" cy="1271.5" r="3.3"/>
<circle cx="577" cy="1271.5" r="3.3"/>
<circle cx="589.5" cy="1271.5" r="3.3"/>
<circle cx="664.5" cy="1271.5" r="3.3"/>
<circle cx="724.8" cy="1271.5" r="3.3"/>
<circle cx="731" cy="1271.5" r="3.3"/>
<circle cx="884.2" cy="1271.5" r="3.3"/>
</g>
<g fill="#000" fill-opacity="0.3" stroke="#000" stroke-opacity="0.42" stroke-width="0.9">
<circle cx="208.2" cy="700.8" r="3.0"/>
<circle cx="208.2" cy="714.8" r="3.0"/>
<circle cx="193.9" cy="756.9" r="3.0"/>
<circle cx="214" cy="756.9" r="3.0"/>
<circle cx="204.9" cy="795.3" r="3.0"/>
<circle cx="217" cy="821.9" r="3.0"/>
<circle cx="251.3" cy="751.3" r="3.0"/>
<circle cx="260.6" cy="844.4" r="3.0"/>
<circle cx="257.6" cy="874.9" r="3.0"/>
<circle cx="269" cy="893.7" r="3.0"/>
<circle cx="271.4" cy="905" r="3.0"/>
<circle cx="254.2" cy="913.4" r="3.0"/>
<circle cx="270.4" cy="979.1" r="3.0"/>
<circle cx="294.3" cy="864.8" r="3.0"/>
<circle cx="294.6" cy="890.7" r="3.0"/>
<circle cx="293.4" cy="927.6" r="3.0"/>
<circle cx="300.7" cy="934.8" r="3.0"/>
<circle cx="214.5" cy="982.6" r="3.0"/>
<circle cx="365.7" cy="983.5" r="3.0"/>
<circle cx="302.7" cy="1007.9" r="3.0"/>
<circle cx="307.4" cy="1004.2" r="3.0"/>
<circle cx="277.4" cy="1002" r="3.0"/>
<circle cx="293.8" cy="1037.5" r="3.0"/>
<circle cx="250" cy="1062.3" r="3.0"/>
<circle cx="275.9" cy="1122.7" r="3.0"/>
<circle cx="292.3" cy="1127.9" r="3.0"/>
<circle cx="289.1" cy="1141.1" r="3.0"/>
<circle cx="286" cy="1151.2" r="3.0"/>
<circle cx="294.1" cy="1152" r="3.0"/>
<circle cx="289.2" cy="1165" r="3.0"/>
<circle cx="311.8" cy="1132.2" r="3.0"/>
<circle cx="325.1" cy="1046" r="3.0"/>
<circle cx="333" cy="1069.5" r="3.0"/>
<circle cx="335" cy="1077.6" r="3.0"/>
<circle cx="343.3" cy="1095.6" r="3.0"/>
<circle cx="325.1" cy="1107.4" r="3.0"/>
<circle cx="341.2" cy="1115.7" r="3.0"/>
<circle cx="352.5" cy="1148" r="3.0"/>
<circle cx="341.6" cy="1186.5" r="3.0"/>
<circle cx="383.3" cy="1055.2" r="3.0"/>
<circle cx="377.9" cy="1065.5" r="3.0"/>
<circle cx="365.5" cy="1074.1" r="3.0"/>
<circle cx="367.7" cy="1076.6" r="3.0"/>
<circle cx="368.4" cy="1109.4" r="3.0"/>
<circle cx="385.4" cy="1126.8" r="3.0"/>
<circle cx="350.3" cy="1230.1" r="3.0"/>
<circle cx="369" cy="1228.8" r="3.0"/>
<circle cx="363" cy="1246.6" r="3.0"/>
<circle cx="368" cy="1252.5" r="3.0"/>
<circle cx="348.7" cy="1271.9" r="3.0"/>
<circle cx="355.1" cy="1271.4" r="3.0"/>
<circle cx="388.2" cy="1271.9" r="3.0"/>
<circle cx="174.9" cy="1262.5" r="3.0"/>
<circle cx="180" cy="1271.9" r="3.0"/>
<circle cx="192.6" cy="1271.9" r="3.0"/>
<circle cx="198.7" cy="1271.9" r="3.0"/>
<circle cx="212.3" cy="1257.9" r="3.0"/>
<circle cx="216.2" cy="1271.9" r="3.0"/>
<circle cx="219.9" cy="1271.4" r="3.0"/>
<circle cx="238.6" cy="1271.4" r="3.0"/>
<circle cx="410.9" cy="1208.6" r="3.0"/>
<circle cx="426.9" cy="1255.6" r="3.0"/>
<circle cx="423.6" cy="1263.8" r="3.0"/>
<circle cx="406.7" cy="1263.5" r="3.0"/>
<circle cx="407.6" cy="1271.4" r="3.0"/>
<circle cx="411.8" cy="1271.9" r="3.0"/>
<circle cx="438.9" cy="1059.8" r="3.0"/>
<circle cx="446.8" cy="1126.8" r="3.0"/>
<circle cx="430" cy="1128.8" r="3.0"/>
<circle cx="420.7" cy="1184" r="3.0"/>
<circle cx="437.7" cy="1186.5" r="3.0"/>
<circle cx="426.9" cy="1196.3" r="3.0"/>
<circle cx="438.7" cy="1208.1" r="3.0"/>
<circle cx="438.6" cy="1270.7" r="3.0"/>
<circle cx="448" cy="1271.5" r="3.0"/>
<circle cx="493.6" cy="1186.7" r="3.0"/>
<circle cx="490.4" cy="1222.2" r="3.0"/>
<circle cx="481.5" cy="1236.4" r="3.0"/>
<circle cx="473.9" cy="1243.3" r="3.0"/>
<circle cx="493.1" cy="1242.8" r="3.0"/>
<circle cx="491.4" cy="1251.2" r="3.0"/>
<circle cx="498.7" cy="1252" r="3.0"/>
<circle cx="501" cy="1203" r="3.0"/>
<circle cx="496.8" cy="1266.5" r="3.0"/>
<circle cx="494.3" cy="1271.4" r="3.0"/>
<circle cx="503.5" cy="1271.9" r="3.0"/>
<circle cx="520.5" cy="1266.8" r="3.0"/>
<circle cx="514.8" cy="1193.8" r="3.0"/>
<circle cx="529.3" cy="1190.4" r="3.0"/>
<circle cx="522.6" cy="1220.5" r="3.0"/>
<circle cx="516.7" cy="1223.1" r="3.0"/>
<circle cx="527.1" cy="1224.4" r="3.0"/>
<circle cx="516.5" cy="1241.9" r="3.0"/>
<circle cx="539.9" cy="1249" r="3.0"/>
<circle cx="525.9" cy="1271.9" r="3.0"/>
<circle cx="566" cy="1160.4" r="3.0"/>
<circle cx="554.4" cy="1209.4" r="3.0"/>
<circle cx="561.6" cy="1215.2" r="3.0"/>
<circle cx="548.8" cy="1223.4" r="3.0"/>
<circle cx="567" cy="1228.5" r="3.0"/>
<circle cx="556.6" cy="1271.9" r="3.0"/>
<circle cx="568.9" cy="1271.9" r="3.0"/>
<circle cx="598.1" cy="1091.4" r="3.0"/>
<circle cx="608.1" cy="1105.7" r="3.0"/>
<circle cx="613.5" cy="1215.2" r="3.0"/>
<circle cx="608.4" cy="1218" r="3.0"/>
<circle cx="603.7" cy="1249.8" r="3.0"/>
<circle cx="603.4" cy="1271.9" r="3.0"/>
<circle cx="613.5" cy="1270.7" r="3.0"/>
<circle cx="628.1" cy="1191.4" r="3.0"/>
<circle cx="629.8" cy="1223.9" r="3.0"/>
<circle cx="653.3" cy="1228.1" r="3.0"/>
<circle cx="627.6" cy="1243.3" r="3.0"/>
<circle cx="638.5" cy="1244.9" r="3.0"/>
<circle cx="624.5" cy="1253.4" r="3.0"/>
<circle cx="637.3" cy="1255.9" r="3.0"/>
<circle cx="642.7" cy="1254.5" r="3.0"/>
<circle cx="662.9" cy="1257.9" r="3.0"/>
<circle cx="668" cy="1263.8" r="3.0"/>
<circle cx="669.2" cy="1270.2" r="3.0"/>
<circle cx="656.2" cy="1271.9" r="3.0"/>
<circle cx="662.1" cy="1271.4" r="3.0"/>
<circle cx="687.5" cy="1184.8" r="3.0"/>
<circle cx="685.2" cy="1214.3" r="3.0"/>
<circle cx="686.5" cy="1231.6" r="3.0"/>
<circle cx="680.3" cy="1247.5" r="3.0"/>
<circle cx="686" cy="1247.1" r="3.0"/>
<circle cx="685.3" cy="1271.9" r="3.0"/>
<circle cx="707.2" cy="1151.7" r="3.0"/>
<circle cx="714.8" cy="1200" r="3.0"/>
<circle cx="728.1" cy="1234.2" r="3.0"/>
<circle cx="723.2" cy="1258.1" r="3.0"/>
<circle cx="716.8" cy="1264" r="3.0"/>
<circle cx="722.7" cy="1265.2" r="3.0"/>
<circle cx="706.7" cy="1269.4" r="3.0"/>
<circle cx="710.9" cy="1271" r="3.0"/>
<circle cx="720.2" cy="1271.9" r="3.0"/>
<circle cx="725.2" cy="1271.9" r="3.0"/>
<circle cx="729.4" cy="1271.9" r="3.0"/>
<circle cx="736.2" cy="1271.9" r="3.0"/>
<circle cx="741.2" cy="1271.9" r="3.0"/>
<circle cx="761.8" cy="1213" r="3.0"/>
<circle cx="764.4" cy="1245.5" r="3.0"/>
<circle cx="739.9" cy="1253.9" r="3.0"/>
<circle cx="748.8" cy="1271.4" r="3.0"/>
<circle cx="756.4" cy="1271" r="3.0"/>
<circle cx="760.6" cy="1271.9" r="3.0"/>
<circle cx="797.9" cy="1156.1" r="3.0"/>
<circle cx="786.3" cy="1196.6" r="3.0"/>
<circle cx="784.6" cy="1208.4" r="3.0"/>
<circle cx="801" cy="1236.5" r="3.0"/>
<circle cx="786.7" cy="1261.3" r="3.0"/>
<circle cx="792.6" cy="1258.8" r="3.0"/>
<circle cx="794.2" cy="1261" r="3.0"/>
<circle cx="780.3" cy="1264.6" r="3.0"/>
<circle cx="783" cy="1271.7" r="3.0"/>
<circle cx="792.6" cy="1265.7" r="3.0"/>
<circle cx="813.3" cy="1255.1" r="3.0"/>
<circle cx="798.5" cy="1269.4" r="3.0"/>
<circle cx="813.6" cy="1271.5" r="3.0"/>
<circle cx="816.1" cy="1271.9" r="3.0"/>
<circle cx="820" cy="1269.4" r="3.0"/>
<circle cx="816.3" cy="1042.9" r="3.0"/>
<circle cx="826.6" cy="1119" r="3.0"/>
<circle cx="839.5" cy="1173.7" r="3.0"/>
<circle cx="829.3" cy="1256.2" r="3.0"/>
<circle cx="839.9" cy="1254" r="3.0"/>
<circle cx="851.9" cy="1189.7" r="3.0"/>
<circle cx="856.7" cy="1241.1" r="3.0"/>
<circle cx="865.2" cy="1247.8" r="3.0"/>
<circle cx="875.3" cy="1244.9" r="3.0"/>
<circle cx="850.8" cy="1256.9" r="3.0"/>
<circle cx="862.3" cy="1268.9" r="3.0"/>
<circle cx="874.9" cy="1263.5" r="3.0"/>
<circle cx="871.5" cy="1271.9" r="3.0"/>
<circle cx="890.1" cy="1267.7" r="3.0"/>
<circle cx="895.1" cy="1271.9" r="3.0"/>
<circle cx="891.8" cy="1260.1" r="3.0"/>
<circle cx="906.1" cy="1197.5" r="3.0"/>
<circle cx="914.8" cy="1219.5" r="3.0"/>
<circle cx="887.9" cy="1236" r="3.0"/>
<circle cx="907.7" cy="1233.2" r="3.0"/>
<circle cx="899.8" cy="1266.5" r="3.0"/>
<circle cx="944.4" cy="1216" r="3.0"/>
<circle cx="948" cy="1228.3" r="3.0"/>
<circle cx="936" cy="1232.2" r="3.0"/>
<circle cx="945.1" cy="1252.5" r="3.0"/>
<circle cx="931.3" cy="1256.7" r="3.0"/>
<circle cx="933.8" cy="1258.4" r="3.0"/>
<circle cx="926.6" cy="1270.5" r="3.0"/>
<circle cx="933" cy="1271.9" r="3.0"/>
<circle cx="943.9" cy="1270.5" r="3.0"/>
<circle cx="949.8" cy="1266" r="3.0"/>
<circle cx="955.7" cy="1270.5" r="3.0"/>
<circle cx="962.5" cy="1266.8" r="3.0"/>
<circle cx="965.8" cy="1270.5" r="3.0"/>
<circle cx="970.5" cy="1219.4" r="3.0"/>
<circle cx="974.2" cy="1221.9" r="3.0"/>
<circle cx="970.4" cy="1230.6" r="3.0"/>
<circle cx="969.7" cy="1263" r="3.0"/>
<circle cx="969.2" cy="1270.2" r="3.0"/>
<circle cx="975.9" cy="1270.2" r="3.0"/>
<circle cx="979.8" cy="1269.4" r="3.0"/>
<circle cx="961.6" cy="1033.8" r="3.0"/>
</g>
<text x="192" y="675.55" font-size="18" fill="#111" text-anchor="middle" font-family="'DejaVu Sans Mono','Liberation Mono',monospace">***</text>
<line x1="182" y1="677.7" x2="203.6" y2="677.7" stroke="#7a7a7a" stroke-width="1.9"/>
<text x="225" y="675.15" font-size="18" fill="#111" text-anchor="middle" font-family="'DejaVu Sans Mono','Liberation Mono',monospace">***</text>
<line x1="214.9" y1="677.3" x2="236.4" y2="677.3" stroke="#111" stroke-width="1.3"/>
<text x="416.4" y="1039.45" font-size="18" fill="#111" text-anchor="middle" font-family="'DejaVu Sans Mono','Liberation Mono',monospace">***</text>
<line x1="406.7" y1="1041.6" x2="427.8" y2="1041.6" stroke="#666" stroke-width="1.4"/>
<text x="449.8" y="1039.05" font-size="18" fill="#111" text-anchor="middle" font-family="'DejaVu Sans Mono','Liberation Mono',monospace">***</text>
<line x1="440.1" y1="1041.2" x2="461.4" y2="1041.2" stroke="#111" stroke-width="1.3"/>
<text x="494.9" y="1159.85" font-size="18" fill="#111" text-anchor="middle" font-family="'DejaVu Sans Mono','Liberation Mono',monospace">**</text>
<line x1="484.2" y1="1162" x2="505.6" y2="1162" stroke="#666" stroke-width="1.4"/>
<text x="519.9" y="1159.85" font-size="18" fill="#111" text-anchor="middle" font-family="'DejaVu Sans Mono','Liberation Mono',monospace">**</text>
<line x1="508.9" y1="1162" x2="530.1" y2="1162" stroke="#666" stroke-width="1.4"/>
<text x="571.1" y="1067.05" font-size="18" fill="#111" text-anchor="middle" font-family="'DejaVu Sans Mono','Liberation Mono',monospace">**</text>
<line x1="559.9" y1="1069.2" x2="581" y2="1069.2" stroke="#666" stroke-width="1.4"/>
<text x="595.5" y="1067.05" font-size="18" fill="#111" text-anchor="middle" font-family="'DejaVu Sans Mono','Liberation Mono',monospace">**</text>
<line x1="584.5" y1="1069.2" x2="605.9" y2="1069.2" stroke="#666" stroke-width="1.4"/>
<text x="644.9" y="1149.55" font-size="18" fill="#111" text-anchor="middle" font-family="'DejaVu Sans Mono','Liberation Mono',monospace">**</text>
<line x1="634.1" y1="1151.7" x2="655.5" y2="1151.7" stroke="#444" stroke-width="1.4"/>
<rect x="907.3" y="668" width="88.2" height="172.4" fill="#ffffff"/>
<text x="918.4" y="704.6" font-size="22.6" fill="#000" font-family="'Liberation Sans','DejaVu Sans',sans-serif">center</text>
<line x1="936.55" y1="722.4" x2="936.55" y2="752.3" stroke="#111" stroke-width="1.8"/>
<rect x="922.9" y="727.9" width="27.3" height="18.9" fill="#ff0000" stroke="#111" stroke-width="1.8"/>
<line x1="922.9" y1="737.35" x2="950.2" y2="737.35" stroke="#111" stroke-width="1.8"/>
<text x="965.7" y="743.65" font-size="17.5" fill="#000" font-family="'Liberation Sans','DejaVu Sans',sans-serif">G</text>
<line x1="936.55" y1="758.4" x2="936.55" y2="788.4" stroke="#111" stroke-width="1.8"/>
<rect x="922.9" y="763.9" width="27.3" height="19" fill="#0571b0" stroke="#111" stroke-width="1.8"/>
<line x1="922.9" y1="773.4" x2="950.2" y2="773.4" stroke="#111" stroke-width="1.8"/>
<text x="965.7" y="779.7" font-size="17.5" fill="#000" font-family="'Liberation Sans','DejaVu Sans',sans-serif">K</text>
<line x1="936.55" y1="794.9" x2="936.55" y2="824.7" stroke="#111" stroke-width="1.8"/>
<rect x="922.9" y="800.4" width="27.3" height="18.8" fill="#f4a582" stroke="#111" stroke-width="1.8"/>
<line x1="922.9" y1="809.8" x2="950.2" y2="809.8" stroke="#111" stroke-width="1.8"/>
<text x="965.7" y="816.1" font-size="17.5" fill="#000" font-family="'Liberation Sans','DejaVu Sans',sans-serif">L</text>
</g>
<g id="panel_d">
<text x="1047.66" y="642.25" font-size="42" fill="#000" font-weight="bold">d</text>
<text x="1206.98" y="625.6" font-size="25.2" fill="#000" textLength="633.31">Differentially abundant genera in Ascomycota and</text>
<text x="1284.33" y="656.85" font-size="25.2" fill="#000" textLength="487.2">Basidiomycota (top 10) across centers</text>
<line x1="1149.2" y1="1197.62" x2="1908.2" y2="1197.62" stroke="#ebebeb" stroke-width="1.5"/>
<line x1="1149.2" y1="1054.28" x2="1908.2" y2="1054.28" stroke="#ebebeb" stroke-width="1.5"/>
<line x1="1149.2" y1="910.92" x2="1908.2" y2="910.92" stroke="#ebebeb" stroke-width="1.5"/>
<line x1="1149.2" y1="767.58" x2="1908.2" y2="767.58" stroke="#ebebeb" stroke-width="1.5"/>
<line x1="1149.2" y1="1269.3" x2="1908.2" y2="1269.3" stroke="#ebebeb" stroke-width="3"/>
<line x1="1149.2" y1="1125.95" x2="1908.2" y2="1125.95" stroke="#ebebeb" stroke-width="3"/>
<line x1="1149.2" y1="982.6" x2="1908.2" y2="982.6" stroke="#ebebeb" stroke-width="3"/>
<line x1="1149.2" y1="839.25" x2="1908.2" y2="839.25" stroke="#ebebeb" stroke-width="3"/>
<line x1="1149.2" y1="695.9" x2="1908.2" y2="695.9" stroke="#ebebeb" stroke-width="3"/>
<line x1="1193.5" y1="669" x2="1193.5" y2="1296.5" stroke="#ebebeb" stroke-width="3"/>
<line x1="1267.94" y1="669" x2="1267.94" y2="1296.5" stroke="#ebebeb" stroke-width="3"/>
<line x1="1342.38" y1="669" x2="1342.38" y2="1296.5" stroke="#ebebeb" stroke-width="3"/>
<line x1="1416.82" y1="669" x2="1416.82" y2="1296.5" stroke="#ebebeb" stroke-width="3"/>
<line x1="1491.26" y1="669" x2="1491.26" y2="1296.5" stroke="#ebebeb" stroke-width="3"/>
<line x1="1565.7" y1="669" x2="1565.7" y2="1296.5" stroke="#ebebeb" stroke-width="3"/>
<line x1="1640.14" y1="669" x2="1640.14" y2="1296.5" stroke="#ebebeb" stroke-width="3"/>
<line x1="1714.58" y1="669" x2="1714.58" y2="1296.5" stroke="#ebebeb" stroke-width="3"/>
<line x1="1789.02" y1="669" x2="1789.02" y2="1296.5" stroke="#ebebeb" stroke-width="3"/>
<line x1="1863.46" y1="669" x2="1863.46" y2="1296.5" stroke="#ebebeb" stroke-width="3"/>
<line x1="1141.3" y1="1269.3" x2="1149.3" y2="1269.3" stroke="#333333" stroke-width="3"/>
<text x="1132.8" y="1275.7" font-size="17.6" fill="#4d4d4d" text-anchor="end">0.00</text>
<line x1="1141.3" y1="1125.95" x2="1149.3" y2="1125.95" stroke="#333333" stroke-width="3"/>
<text x="1126" y="1132.35" font-size="17.6" fill="#4d4d4d" text-anchor="end">0.25</text>
<line x1="1141.3" y1="982.6" x2="1149.3" y2="982.6" stroke="#333333" stroke-width="3"/>
<text x="1132.8" y="989" font-size="17.6" fill="#4d4d4d" text-anchor="end">0.50</text>
<line x1="1141.3" y1="839.25" x2="1149.3" y2="839.25" stroke="#333333" stroke-width="3"/>
<text x="1132.8" y="845.65" font-size="17.6" fill="#4d4d4d" text-anchor="end">0.75</text>
<line x1="1141.3" y1="695.9" x2="1149.3" y2="695.9" stroke="#333333" stroke-width="3"/>
<text x="1132.8" y="702.3" font-size="17.6" fill="#4d4d4d" text-anchor="end">1.00</text>
<line x1="1193.5" y1="1298.2" x2="1193.5" y2="1305.2" stroke="#333333" stroke-width="3.2"/>
<line x1="1267.94" y1="1298.2" x2="1267.94" y2="1305.2" stroke="#333333" stroke-width="3.2"/>
<line x1="1342.38" y1="1298.2" x2="1342.38" y2="1305.2" stroke="#333333" stroke-width="3.2"/>
<line x1="1416.82" y1="1298.2" x2="1416.82" y2="1305.2" stroke="#333333" stroke-width="3.2"/>
<line x1="1491.26" y1="1298.2" x2="1491.26" y2="1305.2" stroke="#333333" stroke-width="3.2"/>
<line x1="1565.7" y1="1298.2" x2="1565.7" y2="1305.2" stroke="#333333" stroke-width="3.2"/>
<line x1="1640.14" y1="1298.2" x2="1640.14" y2="1305.2" stroke="#333333" stroke-width="3.2"/>
<line x1="1714.58" y1="1298.2" x2="1714.58" y2="1305.2" stroke="#333333" stroke-width="3.2"/>
<line x1="1789.02" y1="1298.2" x2="1789.02" y2="1305.2" stroke="#333333" stroke-width="3.2"/>
<line x1="1863.46" y1="1298.2" x2="1863.46" y2="1305.2" stroke="#333333" stroke-width="3.2"/>
<text transform="translate(1051.8,969.5) rotate(-90)" font-size="17.2" fill="#4d4d4d" text-anchor="middle" dy="6.2">Proportion</text>
<text transform="translate(1187.1,1327.5) rotate(45)" font-size="17.3" fill="#4d4d4d" font-style="italic" dy="0">Malassezias</text>
<text transform="translate(1258.34,1327.5) rotate(45)" font-size="17.3" fill="#4d4d4d" font-style="italic" dy="0">Neurospora</text>
<text transform="translate(1331.68,1327.5) rotate(45)" font-size="17.3" fill="#4d4d4d" font-style="italic" dy="0">Neosartorya</text>
<text transform="translate(1410.22,1327.5) rotate(45)" font-size="17.3" fill="#4d4d4d" font-style="italic" dy="0">Aspergillus</text>
<text transform="translate(1481.36,1327.5) rotate(45)" font-size="17.3" fill="#4d4d4d" font-style="italic" dy="0">Saccharomyces</text>
<text transform="translate(1552.8,1327.5) rotate(45)" font-size="17.3" fill="#4d4d4d" font-style="italic" dy="0">Penicillium</text>
<text transform="translate(1631.64,1327.5) rotate(45)" font-size="17.3" fill="#4d4d4d" font-style="italic" dy="0">Coprinopsis</text>
<text transform="translate(1699.28,1327.5) rotate(45)" font-size="17.3" fill="#4d4d4d" font-style="italic" dy="0">Clavispora</text>
<text transform="translate(1776.82,1327.5) rotate(45)" font-size="17.3" fill="#4d4d4d" font-style="italic" dy="0">Lodderomycess</text>
<text transform="translate(1857.86,1327.5) rotate(45)" font-size="17.3" fill="#4d4d4d" font-style="italic" dy="0">Gibberella</text>
<line x1="1174.9" y1="1175.6" x2="1174.9" y2="1216" stroke="#333333" stroke-width="2"/>
<rect x="1166.4" y="1216" width="17" height="53" fill="#ff0000" stroke="#333333" stroke-width="2" stroke-linejoin="round"/>
<line x1="1166.4" y1="1266.8" x2="1183.4" y2="1266.8" stroke="#333333" stroke-width="4"/>
<line x1="1193.5" y1="698.1" x2="1193.5" y2="970.5" stroke="#333333" stroke-width="2"/>
<line x1="1193.5" y1="1216" x2="1193.5" y2="1245.8" stroke="#333333" stroke-width="2"/>
<rect x="1185" y="970.5" width="17" height="245.5" fill="#0571b0" stroke="#333333" stroke-width="2" stroke-linejoin="round"/>
<line x1="1185" y1="1114" x2="1202" y2="1114" stroke="#333333" stroke-width="4"/>
<line x1="1212.1" y1="1084.2" x2="1212.1" y2="1189.9" stroke="#333333" stroke-width="2"/>
<rect x="1203.6" y="1189.9" width="17" height="76.4" fill="#f4a582" stroke="#333333" stroke-width="2" stroke-linejoin="round"/>
<line x1="1203.6" y1="1264.3" x2="1220.6" y2="1264.3" stroke="#333333" stroke-width="4"/>
<rect x="1240.84" y="1255.7" width="17" height="12.3" fill="#ff0000" stroke="#333333" stroke-width="2" stroke-linejoin="round"/>
<line x1="1240.84" y1="1263.5" x2="1257.84" y2="1263.5" stroke="#333333" stroke-width="4"/>
<line x1="1267.94" y1="837.2" x2="1267.94" y2="927.6" stroke="#333333" stroke-width="2"/>
<line x1="1267.94" y1="1141.9" x2="1267.94" y2="1269.4" stroke="#333333" stroke-width="2"/>
<rect x="1259.44" y="927.6" width="17" height="214.3" fill="#0571b0" stroke="#333333" stroke-width="2" stroke-linejoin="round"/>
<line x1="1259.44" y1="975.6" x2="1276.44" y2="975.6" stroke="#333333" stroke-width="4"/>
<line x1="1286.54" y1="1225.9" x2="1286.54" y2="1237.9" stroke="#333333" stroke-width="2"/>
<line x1="1286.54" y1="1261.1" x2="1286.54" y2="1268.9" stroke="#333333" stroke-width="2"/>
<rect x="1278.04" y="1237.9" width="17" height="23.2" fill="#f4a582" stroke="#333333" stroke-width="2" stroke-linejoin="round"/>
<line x1="1278.04" y1="1251.2" x2="1295.04" y2="1251.2" stroke="#333333" stroke-width="4"/>
<line x1="1323.78" y1="1079.1" x2="1323.78" y2="1144.8" stroke="#333333" stroke-width="2"/>
<line x1="1323.78" y1="1204.2" x2="1323.78" y2="1258.9" stroke="#333333" stroke-width="2"/>
<rect x="1315.28" y="1144.8" width="17" height="59.4" fill="#ff0000" stroke="#333333" stroke-width="2" stroke-linejoin="round"/>
<line x1="1315.28" y1="1165.2" x2="1332.28" y2="1165.2" stroke="#333333" stroke-width="4"/>
<rect x="1333.88" y="1264.6" width="17" height="5" fill="#0571b0" stroke="#333333" stroke-width="2" stroke-linejoin="round"/>
<line x1="1333.88" y1="1267.2" x2="1350.88" y2="1267.2" stroke="#333333" stroke-width="4"/>
<line x1="1360.98" y1="1106.6" x2="1360.98" y2="1129.6" stroke="#333333" stroke-width="2"/>
<line x1="1360.98" y1="1161.6" x2="1360.98" y2="1193.9" stroke="#333333" stroke-width="2"/>
<rect x="1352.48" y="1129.6" width="17" height="32" fill="#f4a582" stroke="#333333" stroke-width="2" stroke-linejoin="round"/>
<line x1="1352.48" y1="1145.8" x2="1369.48" y2="1145.8" stroke="#333333" stroke-width="4"/>
<line x1="1398.22" y1="1159.9" x2="1398.22" y2="1169.7" stroke="#333333" stroke-width="2"/>
<line x1="1398.22" y1="1193.6" x2="1398.22" y2="1204.2" stroke="#333333" stroke-width="2"/>
<rect x="1389.72" y="1169.7" width="17" height="23.9" fill="#ff0000" stroke="#333333" stroke-width="2" stroke-linejoin="round"/>
<line x1="1389.72" y1="1177.1" x2="1406.72" y2="1177.1" stroke="#333333" stroke-width="4"/>
<rect x="1408.32" y="1265" width="17" height="4.6" fill="#0571b0" stroke="#333333" stroke-width="2" stroke-linejoin="round"/>
<line x1="1408.32" y1="1267.3" x2="1425.32" y2="1267.3" stroke="#333333" stroke-width="4"/>
<line x1="1435.42" y1="1147.6" x2="1435.42" y2="1159.4" stroke="#333333" stroke-width="2"/>
<line x1="1435.42" y1="1199.5" x2="1435.42" y2="1233.2" stroke="#333333" stroke-width="2"/>
<rect x="1426.92" y="1159.4" width="17" height="40.1" fill="#f4a582" stroke="#333333" stroke-width="2" stroke-linejoin="round"/>
<line x1="1426.92" y1="1166.7" x2="1443.92" y2="1166.7" stroke="#333333" stroke-width="4"/>
<line x1="1472.66" y1="1138.4" x2="1472.66" y2="1167.2" stroke="#333333" stroke-width="2"/>
<line x1="1472.66" y1="1194.1" x2="1472.66" y2="1231.6" stroke="#333333" stroke-width="2"/>
<rect x="1464.16" y="1167.2" width="17" height="26.9" fill="#ff0000" stroke="#333333" stroke-width="2" stroke-linejoin="round"/>
<line x1="1464.16" y1="1174.6" x2="1481.16" y2="1174.6" stroke="#333333" stroke-width="4"/>
<line x1="1491.26" y1="1253.9" x2="1491.26" y2="1267.7" stroke="#333333" stroke-width="2"/>
<rect x="1482.76" y="1240.7" width="17" height="13.2" fill="#0571b0" stroke="#333333" stroke-width="2" stroke-linejoin="round"/>
<line x1="1482.76" y1="1243" x2="1499.76" y2="1243" stroke="#333333" stroke-width="4"/>
<line x1="1509.86" y1="1161.1" x2="1509.86" y2="1170.9" stroke="#333333" stroke-width="2"/>
<line x1="1509.86" y1="1190.6" x2="1509.86" y2="1192" stroke="#333333" stroke-width="2"/>
<rect x="1501.36" y="1170.9" width="17" height="19.7" fill="#f4a582" stroke="#333333" stroke-width="2" stroke-linejoin="round"/>
<line x1="1501.36" y1="1174.6" x2="1518.36" y2="1174.6" stroke="#333333" stroke-width="4"/>
<line x1="1547.1" y1="1141.1" x2="1547.1" y2="1164.6" stroke="#333333" stroke-width="2"/>
<line x1="1547.1" y1="1197.3" x2="1547.1" y2="1225.9" stroke="#333333" stroke-width="2"/>
<rect x="1538.6" y="1164.6" width="17" height="32.7" fill="#ff0000" stroke="#333333" stroke-width="2" stroke-linejoin="round"/>
<line x1="1538.6" y1="1175.9" x2="1555.6" y2="1175.9" stroke="#333333" stroke-width="4"/>
<line x1="1565.7" y1="1260.9" x2="1565.7" y2="1264.4" stroke="#333333" stroke-width="2"/>
<rect x="1557.2" y="1264.4" width="17" height="5.9" fill="#0571b0" stroke="#333333" stroke-width="2" stroke-linejoin="round"/>
<line x1="1557.2" y1="1267" x2="1574.2" y2="1267" stroke="#333333" stroke-width="4"/>
<line x1="1584.3" y1="1158.2" x2="1584.3" y2="1170" stroke="#333333" stroke-width="2"/>
<line x1="1584.3" y1="1186.4" x2="1584.3" y2="1199.8" stroke="#333333" stroke-width="2"/>
<rect x="1575.8" y="1170" width="17" height="16.4" fill="#f4a582" stroke="#333333" stroke-width="2" stroke-linejoin="round"/>
<line x1="1575.8" y1="1176.3" x2="1592.8" y2="1176.3" stroke="#333333" stroke-width="4"/>
<line x1="1621.54" y1="1172.6" x2="1621.54" y2="1194.1" stroke="#333333" stroke-width="2"/>
<line x1="1621.54" y1="1234.8" x2="1621.54" y2="1264.6" stroke="#333333" stroke-width="2"/>
<rect x="1613.04" y="1194.1" width="17" height="40.7" fill="#ff0000" stroke="#333333" stroke-width="2" stroke-linejoin="round"/>
<line x1="1613.04" y1="1214.1" x2="1630.04" y2="1214.1" stroke="#333333" stroke-width="4"/>
<rect x="1631.64" y="1268.6" width="17" height="1.4" fill="#0571b0" stroke="#333333" stroke-width="2" stroke-linejoin="round"/>
<line x1="1631.64" y1="1269.3" x2="1648.64" y2="1269.3" stroke="#333333" stroke-width="4"/>
<line x1="1658.74" y1="1191.4" x2="1658.74" y2="1195.6" stroke="#333333" stroke-width="2"/>
<line x1="1658.74" y1="1208.2" x2="1658.74" y2="1209.8" stroke="#333333" stroke-width="2"/>
<rect x="1650.24" y="1195.6" width="17" height="12.6" fill="#f4a582" stroke="#333333" stroke-width="2" stroke-linejoin="round"/>
<line x1="1650.24" y1="1202" x2="1667.24" y2="1202" stroke="#333333" stroke-width="4"/>
<line x1="1695.98" y1="1230.3" x2="1695.98" y2="1250.8" stroke="#333333" stroke-width="2"/>
<rect x="1687.48" y="1250.8" width="17" height="18.1" fill="#ff0000" stroke="#333333" stroke-width="2" stroke-linejoin="round"/>
<line x1="1687.48" y1="1260.6" x2="1704.48" y2="1260.6" stroke="#333333" stroke-width="4"/>
<line x1="1714.58" y1="1209.6" x2="1714.58" y2="1223.1" stroke="#333333" stroke-width="2"/>
<line x1="1714.58" y1="1263.1" x2="1714.58" y2="1268.9" stroke="#333333" stroke-width="2"/>
<rect x="1706.08" y="1223.1" width="17" height="40" fill="#0571b0" stroke="#333333" stroke-width="2" stroke-linejoin="round"/>
<line x1="1706.08" y1="1246.1" x2="1723.08" y2="1246.1" stroke="#333333" stroke-width="4"/>
<rect x="1724.68" y="1268.6" width="17" height="1.4" fill="#f4a582" stroke="#333333" stroke-width="2" stroke-linejoin="round"/>
<line x1="1724.68" y1="1269.3" x2="1741.68" y2="1269.3" stroke="#333333" stroke-width="4"/>
<rect x="1761.92" y="1261.2" width="17" height="8.2" fill="#ff0000" stroke="#333333" stroke-width="2" stroke-linejoin="round"/>
<line x1="1761.92" y1="1266.5" x2="1778.92" y2="1266.5" stroke="#333333" stroke-width="4"/>
<rect x="1780.52" y="1268.6" width="17" height="1.4" fill="#0571b0" stroke="#333333" stroke-width="2" stroke-linejoin="round"/>
<line x1="1780.52" y1="1269.3" x2="1797.52" y2="1269.3" stroke="#333333" stroke-width="4"/>
<rect x="1799.12" y="1268.6" width="17" height="1.4" fill="#f4a582" stroke="#333333" stroke-width="2" stroke-linejoin="round"/>
<line x1="1799.12" y1="1269.3" x2="1816.12" y2="1269.3" stroke="#333333" stroke-width="4"/>
<rect x="1836.36" y="1264" width="17" height="6.3" fill="#ff0000" stroke="#333333" stroke-width="2" stroke-linejoin="round"/>
<line x1="1836.36" y1="1267.8" x2="1853.36" y2="1267.8" stroke="#333333" stroke-width="4"/>
<line x1="1863.46" y1="1261.4" x2="1863.46" y2="1263.3" stroke="#333333" stroke-width="2"/>
<rect x="1854.96" y="1263.3" width="17" height="5.9" fill="#0571b0" stroke="#333333" stroke-width="2" stroke-linejoin="round"/>
<line x1="1854.96" y1="1266.5" x2="1871.96" y2="1266.5" stroke="#333333" stroke-width="4"/>
<rect x="1873.56" y="1268.6" width="17" height="1.4" fill="#f4a582" stroke="#333333" stroke-width="2" stroke-linejoin="round"/>
<line x1="1873.56" y1="1269.3" x2="1890.56" y2="1269.3" stroke="#333333" stroke-width="4"/>
<g fill="#2b2b2b">
<circle cx="1212.4" cy="697.1" r="4.6"/>
<circle cx="1175" cy="772.7" r="4.6"/>
<circle cx="1249.4" cy="1227.1" r="4.6"/>
<circle cx="1249.4" cy="1236.4" r="4.6"/>
<circle cx="1342.5" cy="1255.1" r="4.6"/>
<circle cx="1361" cy="1269" r="4.6"/>
<circle cx="1398.4" cy="1099.7" r="4.6"/>
<circle cx="1416.9" cy="1255.2" r="4.6"/>
<circle cx="1435.5" cy="1268.9" r="4.6"/>
<circle cx="1398.4" cy="1264.6" r="4.6"/>
<circle cx="1472.5" cy="1266.5" r="4.6"/>
<circle cx="1509.9" cy="1269" r="4.6"/>
<circle cx="1547.2" cy="1263.1" r="4.6"/>
<circle cx="1565.6" cy="1257.1" r="4.6"/>
<circle cx="1584.4" cy="1269" r="4.6"/>
<circle cx="1640.1" cy="1266.8" r="4.6"/>
<circle cx="1658.8" cy="1269.4" r="4.6"/>
<circle cx="1733.2" cy="1237.9" r="4.6"/>
<circle cx="1770.4" cy="1238.6" r="4.6"/>
<circle cx="1770.4" cy="1247.8" r="4.6"/>
<circle cx="1807.6" cy="1245.6" r="4.6"/>
<circle cx="1844.9" cy="1124.1" r="4.6"/>
<circle cx="1863.4" cy="1227.1" r="4.6"/>
<circle cx="1881.9" cy="1243.4" r="4.6"/>
<circle cx="1714.6" cy="946.4" r="4.6"/>
</g>
<g fill="#1a1a1a" fill-opacity="0.85">
<circle cx="1728.8" cy="1269.3" r="3.3"/>
<circle cx="1807.6" cy="1268.5" r="3.3"/>
<circle cx="1345" cy="1268" r="3.3"/>
<circle cx="1566" cy="1269" r="3.3"/>
</g>
<g fill="#000" fill-opacity="0.3" stroke="#000" stroke-opacity="0.42" stroke-width="0.9">
<circle cx="1179.7" cy="697.9" r="3.0"/>
<circle cx="1204.8" cy="697.1" r="3.0"/>
<circle cx="1161.2" cy="772.7" r="3.0"/>
<circle cx="1198.6" cy="885.2" r="3.0"/>
<circle cx="1279.7" cy="837.2" r="3.0"/>
<circle cx="1255.7" cy="883" r="3.0"/>
<circle cx="1258.2" cy="973" r="3.0"/>
<circle cx="1253.3" cy="975.6" r="3.0"/>
<circle cx="1178.9" cy="1175.6" r="3.0"/>
<circle cx="1187" cy="1218.9" r="3.0"/>
<circle cx="1163.6" cy="1229.6" r="3.0"/>
<circle cx="1180.2" cy="1245.5" r="3.0"/>
<circle cx="1187.6" cy="1264.5" r="3.0"/>
<circle cx="1168.1" cy="1267.2" r="3.0"/>
<circle cx="1172.8" cy="1269.9" r="3.0"/>
<circle cx="1187.1" cy="1269.4" r="3.0"/>
<circle cx="1181.8" cy="1056.2" r="3.0"/>
<circle cx="1204.8" cy="1114.1" r="3.0"/>
<circle cx="1226.7" cy="1084" r="3.0"/>
<circle cx="1206.2" cy="1212.1" r="3.0"/>
<circle cx="1216.9" cy="1225.4" r="3.0"/>
<circle cx="1200.1" cy="1263.6" r="3.0"/>
<circle cx="1217.9" cy="1264" r="3.0"/>
<circle cx="1222.5" cy="1266" r="3.0"/>
<circle cx="1227.2" cy="1266.5" r="3.0"/>
<circle cx="1256.5" cy="1227.3" r="3.0"/>
<circle cx="1235.5" cy="1268.7" r="3.0"/>
<circle cx="1242.2" cy="1267.7" r="3.0"/>
<circle cx="1247.7" cy="1262.6" r="3.0"/>
<circle cx="1257.3" cy="1269.4" r="3.0"/>
<circle cx="1258.9" cy="1264.6" r="3.0"/>
<circle cx="1260.5" cy="1117.3" r="3.0"/>
<circle cx="1272.7" cy="1165.3" r="3.0"/>
<circle cx="1272.7" cy="1230.5" r="3.0"/>
<circle cx="1263.6" cy="1236.4" r="3.0"/>
<circle cx="1273" cy="1269.4" r="3.0"/>
<circle cx="1279.2" cy="1225.6" r="3.0"/>
<circle cx="1287.3" cy="1241.2" r="3.0"/>
<circle cx="1291.9" cy="1247.8" r="3.0"/>
<circle cx="1276.7" cy="1254.4" r="3.0"/>
<circle cx="1299.8" cy="1258.9" r="3.0"/>
<circle cx="1292.9" cy="1266.7" r="3.0"/>
<circle cx="1286.8" cy="1269.5" r="3.0"/>
<circle cx="1333.4" cy="1078.8" r="3.0"/>
<circle cx="1320.1" cy="1140.1" r="3.0"/>
<circle cx="1332.9" cy="1147.3" r="3.0"/>
<circle cx="1312.6" cy="1150" r="3.0"/>
<circle cx="1338.5" cy="1180.3" r="3.0"/>
<circle cx="1311.7" cy="1188.2" r="3.0"/>
<circle cx="1315.3" cy="1258.6" r="3.0"/>
<circle cx="1333.1" cy="1250.5" r="3.0"/>
<circle cx="1337" cy="1255.1" r="3.0"/>
<circle cx="1343.7" cy="1262.6" r="3.0"/>
<circle cx="1344.5" cy="1269" r="3.0"/>
<circle cx="1348.8" cy="1266.8" r="3.0"/>
<circle cx="1354.3" cy="1267.7" r="3.0"/>
<circle cx="1374.8" cy="1106.6" r="3.0"/>
<circle cx="1370.8" cy="1118.7" r="3.0"/>
<circle cx="1366.9" cy="1133.8" r="3.0"/>
<circle cx="1354.5" cy="1144.6" r="3.0"/>
<circle cx="1350.9" cy="1150.5" r="3.0"/>
<circle cx="1364.9" cy="1147.1" r="3.0"/>
<circle cx="1374.3" cy="1194.1" r="3.0"/>
<circle cx="1408" cy="1159.4" r="3.0"/>
<circle cx="1409.7" cy="1172.9" r="3.0"/>
<circle cx="1397.6" cy="1177.1" r="3.0"/>
<circle cx="1412.9" cy="1177.6" r="3.0"/>
<circle cx="1390" cy="1188.9" r="3.0"/>
<circle cx="1391.3" cy="1204.2" r="3.0"/>
<circle cx="1423" cy="1255.2" r="3.0"/>
<circle cx="1391.7" cy="1264.8" r="3.0"/>
<circle cx="1406.3" cy="1266" r="3.0"/>
<circle cx="1411.9" cy="1268.9" r="3.0"/>
<circle cx="1416.9" cy="1269.4" r="3.0"/>
<circle cx="1428.4" cy="1265.5" r="3.0"/>
<circle cx="1439.7" cy="1269" r="3.0"/>
<circle cx="1425.5" cy="1151.5" r="3.0"/>
<circle cx="1448.6" cy="1147.5" r="3.0"/>
<circle cx="1430.1" cy="1162.8" r="3.0"/>
<circle cx="1442.2" cy="1166.7" r="3.0"/>
<circle cx="1448.1" cy="1166.2" r="3.0"/>
<circle cx="1442.7" cy="1187.9" r="3.0"/>
<circle cx="1438.5" cy="1233.3" r="3.0"/>
<circle cx="1477.2" cy="1138" r="3.0"/>
<circle cx="1463.2" cy="1149.3" r="3.0"/>
<circle cx="1472.2" cy="1173.4" r="3.0"/>
<circle cx="1459.9" cy="1175.6" r="3.0"/>
<circle cx="1484.3" cy="1174.7" r="3.0"/>
<circle cx="1465.3" cy="1181" r="3.0"/>
<circle cx="1465.8" cy="1266.5" r="3.0"/>
<circle cx="1477.9" cy="1267.7" r="3.0"/>
<circle cx="1487.5" cy="1231.6" r="3.0"/>
<circle cx="1492.2" cy="1240.4" r="3.0"/>
<circle cx="1501.4" cy="1239.1" r="3.0"/>
<circle cx="1504.3" cy="1241.6" r="3.0"/>
<circle cx="1491.9" cy="1250.2" r="3.0"/>
<circle cx="1497.4" cy="1257.1" r="3.0"/>
<circle cx="1512.1" cy="1162.5" r="3.0"/>
<circle cx="1518.8" cy="1160.9" r="3.0"/>
<circle cx="1495.7" cy="1175.6" r="3.0"/>
<circle cx="1514.9" cy="1174.2" r="3.0"/>
<circle cx="1506.2" cy="1189.4" r="3.0"/>
<circle cx="1522.7" cy="1192.1" r="3.0"/>
<circle cx="1505.3" cy="1268.9" r="3.0"/>
<circle cx="1533.6" cy="1263" r="3.0"/>
<circle cx="1559" cy="1140.9" r="3.0"/>
<circle cx="1542" cy="1161.3" r="3.0"/>
<circle cx="1557.5" cy="1166.3" r="3.0"/>
<circle cx="1559.7" cy="1166.7" r="3.0"/>
<circle cx="1549.4" cy="1187.5" r="3.0"/>
<circle cx="1557.2" cy="1185.5" r="3.0"/>
<circle cx="1544.2" cy="1226.4" r="3.0"/>
<circle cx="1578.2" cy="1259.8" r="3.0"/>
<circle cx="1566.4" cy="1269" r="3.0"/>
<circle cx="1574.3" cy="1269" r="3.0"/>
<circle cx="1575.7" cy="1158.2" r="3.0"/>
<circle cx="1577.4" cy="1165.5" r="3.0"/>
<circle cx="1583.1" cy="1172.2" r="3.0"/>
<circle cx="1573.5" cy="1176.9" r="3.0"/>
<circle cx="1597.1" cy="1175.6" r="3.0"/>
<circle cx="1579.4" cy="1181.3" r="3.0"/>
<circle cx="1579.4" cy="1199.7" r="3.0"/>
<circle cx="1622.1" cy="1172.1" r="3.0"/>
<circle cx="1607.4" cy="1194.6" r="3.0"/>
<circle cx="1633.7" cy="1193.8" r="3.0"/>
<circle cx="1607.2" cy="1209.9" r="3.0"/>
<circle cx="1613.8" cy="1218.4" r="3.0"/>
<circle cx="1613.8" cy="1229.3" r="3.0"/>
<circle cx="1615" cy="1250.5" r="3.0"/>
<circle cx="1625.8" cy="1264.3" r="3.0"/>
<circle cx="1626.8" cy="1269.4" r="3.0"/>
<circle cx="1646.3" cy="1268.9" r="3.0"/>
<circle cx="1649.7" cy="1269.4" r="3.0"/>
<circle cx="1646" cy="1191.1" r="3.0"/>
<circle cx="1651" cy="1193.6" r="3.0"/>
<circle cx="1670.7" cy="1196.1" r="3.0"/>
<circle cx="1645.1" cy="1207.1" r="3.0"/>
<circle cx="1651.3" cy="1210.1" r="3.0"/>
<circle cx="1681.8" cy="1230" r="3.0"/>
<circle cx="1683.3" cy="1245.8" r="3.0"/>
<circle cx="1691.4" cy="1253.4" r="3.0"/>
<circle cx="1700.7" cy="1255.1" r="3.0"/>
<circle cx="1699.3" cy="1266" r="3.0"/>
<circle cx="1687.5" cy="1268.9" r="3.0"/>
<circle cx="1692.1" cy="1269.9" r="3.0"/>
<circle cx="1703.5" cy="1209.6" r="3.0"/>
<circle cx="1719.9" cy="1237.4" r="3.0"/>
<circle cx="1723.1" cy="1237.7" r="3.0"/>
<circle cx="1719" cy="1246.3" r="3.0"/>
<circle cx="1726.6" cy="1259.8" r="3.0"/>
<circle cx="1727.1" cy="1266" r="3.0"/>
<circle cx="1722.1" cy="1269.4" r="3.0"/>
<circle cx="1727.4" cy="1266.8" r="3.0"/>
<circle cx="1722" cy="946.4" r="3.0"/>
<circle cx="1756.6" cy="1238.6" r="3.0"/>
<circle cx="1776.4" cy="1247.8" r="3.0"/>
<circle cx="1757.9" cy="1265.5" r="3.0"/>
<circle cx="1757.7" cy="1269.4" r="3.0"/>
<circle cx="1767.2" cy="1268.9" r="3.0"/>
<circle cx="1773.4" cy="1265.5" r="3.0"/>
<circle cx="1775.9" cy="1269.4" r="3.0"/>
<circle cx="1781.8" cy="1269.4" r="3.0"/>
<circle cx="1796.1" cy="1269.4" r="3.0"/>
<circle cx="1818.4" cy="1245.8" r="3.0"/>
<circle cx="1802" cy="1269.4" r="3.0"/>
<circle cx="1813.8" cy="1269.4" r="3.0"/>
<circle cx="1817.7" cy="1268.9" r="3.0"/>
<circle cx="1831.1" cy="1269.4" r="3.0"/>
<circle cx="1836.1" cy="1263.5" r="3.0"/>
<circle cx="1848.7" cy="1269.4" r="3.0"/>
<circle cx="1854.8" cy="1260.9" r="3.0"/>
<circle cx="1864.7" cy="1266.5" r="3.0"/>
<circle cx="1871.1" cy="1269.4" r="3.0"/>
<circle cx="1892" cy="1243.4" r="3.0"/>
<circle cx="1879" cy="1268.9" r="3.0"/>
<circle cx="1884.1" cy="1269.4" r="3.0"/>
<circle cx="1890.8" cy="1269.4" r="3.0"/>
<circle cx="1893.3" cy="1269" r="3.0"/>
</g>
<text x="1252.2" y="783.65" font-size="18" fill="#111" text-anchor="middle" font-family="'DejaVu Sans Mono','Liberation Mono',monospace">***</text>
<line x1="1241.2" y1="785.8" x2="1262.7" y2="785.8" stroke="#777" stroke-width="1.7"/>
<text x="1285.6" y="783.65" font-size="18" fill="#111" text-anchor="middle" font-family="'DejaVu Sans Mono','Liberation Mono',monospace">***</text>
<line x1="1275.5" y1="785.8" x2="1296.9" y2="785.8" stroke="#777" stroke-width="1.7"/>
<text x="1399.6" y="1048.55" font-size="18" fill="#111" text-anchor="middle" font-family="'DejaVu Sans Mono','Liberation Mono',monospace">***</text>
<line x1="1390" y1="1050.7" x2="1411.3" y2="1050.7" stroke="#777" stroke-width="1.7"/>
<text x="1549.4" y="1114.15" font-size="18" fill="#111" text-anchor="middle" font-family="'DejaVu Sans Mono','Liberation Mono',monospace">***</text>
<line x1="1538.5" y1="1116.3" x2="1559.9" y2="1116.3" stroke="#444" stroke-width="1.4"/>
<text x="1582.8" y="1114.15" font-size="18" fill="#111" text-anchor="middle" font-family="'DejaVu Sans Mono','Liberation Mono',monospace">***</text>
<line x1="1573.5" y1="1116.3" x2="1594.9" y2="1116.3" stroke="#444" stroke-width="1.4"/>
<text x="1624.5" y="1114.15" font-size="18" fill="#111" text-anchor="middle" font-family="'DejaVu Sans Mono','Liberation Mono',monospace">***</text>
<line x1="1613.8" y1="1116.3" x2="1634.8" y2="1116.3" stroke="#444" stroke-width="1.4"/>
<text x="1657.9" y="1114.15" font-size="18" fill="#111" text-anchor="middle" font-family="'DejaVu Sans Mono','Liberation Mono',monospace">***</text>
<line x1="1648" y1="1116.3" x2="1669" y2="1116.3" stroke="#444" stroke-width="1.4"/>
<rect x="1820.3" y="666" width="91.7" height="173" fill="#ffffff"/>
<text x="1832.3" y="703.5" font-size="22.6" fill="#000" font-family="'Liberation Sans','DejaVu Sans',sans-serif">center</text>
<line x1="1850.55" y1="722.3" x2="1850.55" y2="752.1" stroke="#111" stroke-width="1.8"/>
<rect x="1837" y="727.8" width="27.1" height="18.8" fill="#ff0000" stroke="#111" stroke-width="1.8"/>
<line x1="1837" y1="737.2" x2="1864.1" y2="737.2" stroke="#111" stroke-width="1.8"/>
<text x="1880.1" y="743.5" font-size="17.5" fill="#000" font-family="'Liberation Sans','DejaVu Sans',sans-serif">G</text>
<line x1="1850.55" y1="758.5" x2="1850.55" y2="788.5" stroke="#111" stroke-width="1.8"/>
<rect x="1837" y="764" width="27.1" height="19" fill="#0571b0" stroke="#111" stroke-width="1.8"/>
<line x1="1837" y1="773.5" x2="1864.1" y2="773.5" stroke="#111" stroke-width="1.8"/>
<text x="1880.1" y="779.8" font-size="17.5" fill="#000" font-family="'Liberation Sans','DejaVu Sans',sans-serif">K</text>
<line x1="1850.55" y1="794.9" x2="1850.55" y2="824.7" stroke="#111" stroke-width="1.8"/>
<rect x="1837" y="800.4" width="27.1" height="18.8" fill="#f4a582" stroke="#111" stroke-width="1.8"/>
<line x1="1837" y1="809.8" x2="1864.1" y2="809.8" stroke="#111" stroke-width="1.8"/>
<text x="1880.1" y="816.1" font-size="17.5" fill="#000" font-family="'Liberation Sans','DejaVu Sans',sans-serif">L</text>
</g>
<g id="panel_e">
<text x="-1.15" y="1535.9" font-size="42" fill="#000" font-weight="bold">e</text>
<text x="140.68" y="1531.1" font-size="25.2" fill="#000" textLength="534.32">Fungal genera (top 10) grouped by center</text>
<line x1="127.5" y1="1904.34" x2="480" y2="1904.34" stroke="#eeeeee" stroke-width="1.3"/>
<line x1="127.5" y1="1822.38" x2="480" y2="1822.38" stroke="#eeeeee" stroke-width="1.3"/>
<line x1="127.5" y1="1740.42" x2="480" y2="1740.42" stroke="#eeeeee" stroke-width="1.3"/>
<line x1="127.5" y1="1658.46" x2="480" y2="1658.46" stroke="#eeeeee" stroke-width="1.3"/>
<line x1="127.5" y1="1576.5" x2="480" y2="1576.5" stroke="#eeeeee" stroke-width="1.3"/>
<rect x="139.4" y="1576.49" width="93.5" height="22.58" fill="#bdbdbd"/>
<rect x="139.4" y="1599.02" width="93.5" height="2.18" fill="#6a3d9a"/>
<rect x="139.4" y="1601.15" width="93.5" height="3.45" fill="#cab2d6"/>
<rect x="139.4" y="1604.55" width="93.5" height="16.2" fill="#ff7f00"/>
<rect x="139.4" y="1620.7" width="93.5" height="3.88" fill="#fdbf6f"/>
<rect x="139.4" y="1624.53" width="93.5" height="31.72" fill="#e31a1c"/>
<rect x="139.4" y="1656.2" width="93.5" height="42.77" fill="#fb9a99"/>
<rect x="139.4" y="1698.92" width="93.5" height="45.11" fill="#33a02c"/>
<rect x="139.4" y="1743.97" width="93.5" height="43.41" fill="#b2df8a"/>
<rect x="139.4" y="1787.33" width="93.5" height="54.89" fill="#1f78b4"/>
<rect x="139.4" y="1842.17" width="93.5" height="144.15" fill="#a6cee3"/>
<rect x="256.7" y="1576.49" width="93.6" height="2.6" fill="#bdbdbd"/>
<rect x="256.7" y="1579.04" width="93.6" height="4.3" fill="#ff7f00"/>
<rect x="256.7" y="1583.29" width="93.6" height="27.04" fill="#fdbf6f"/>
<rect x="256.7" y="1610.29" width="93.6" height="0.48" fill="#33a02c"/>
<rect x="256.7" y="1610.71" width="93.6" height="3.88" fill="#b2df8a"/>
<rect x="256.7" y="1614.54" width="93.6" height="371.78" fill="#a6cee3"/>
<rect x="374.1" y="1576.49" width="93.5" height="3.03" fill="#bdbdbd"/>
<rect x="374.1" y="1579.47" width="93.5" height="0.9" fill="#ff7f00"/>
<rect x="374.1" y="1580.32" width="93.5" height="1.33" fill="#fdbf6f"/>
<rect x="374.1" y="1581.59" width="93.5" height="5.58" fill="#e31a1c"/>
<rect x="374.1" y="1587.12" width="93.5" height="8.55" fill="#fb9a99"/>
<rect x="374.1" y="1595.62" width="93.5" height="7.7" fill="#33a02c"/>
<rect x="374.1" y="1603.27" width="93.5" height="7.7" fill="#b2df8a"/>
<rect x="374.1" y="1610.92" width="93.5" height="11.31" fill="#1f78b4"/>
<rect x="374.1" y="1622.19" width="93.5" height="364.13" fill="#a6cee3"/>
<line x1="127.5" y1="1986.6" x2="485.4" y2="1986.6" stroke="#555555" stroke-width="1.6"/>
<text x="126.3" y="1991.2" font-size="14" fill="#5e5e5e" text-anchor="end">0</text>
<text x="126.3" y="1909.24" font-size="14" fill="#5e5e5e" text-anchor="end">20</text>
<text x="126.3" y="1827.28" font-size="14" fill="#5e5e5e" text-anchor="end">40</text>
<text x="126.3" y="1745.32" font-size="14" fill="#5e5e5e" text-anchor="end">60</text>
<text x="126.3" y="1663.36" font-size="14" fill="#5e5e5e" text-anchor="end">80</text>
<text x="126.3" y="1581.4" font-size="14" fill="#5e5e5e" text-anchor="end">100</text>
<text transform="translate(68,1770.3) rotate(-90)" font-size="18.6" fill="#444" text-anchor="middle" dy="6.5">Percentage</text>
<text transform="translate(184.9,2016.6) rotate(45)" font-size="31" fill="#444" text-anchor="middle" dy="11.3">G</text>
<text transform="translate(301,2016.6) rotate(45)" font-size="31" fill="#444" text-anchor="middle" dy="11.3">K</text>
<text transform="translate(411.6,2019.8) rotate(45)" font-size="31" fill="#444" text-anchor="middle" dy="11.3">L</text>
<rect x="533.9" y="1571.2" width="19.1" height="19" fill="#a6cee3"/>
<text x="575.5" y="1587.3" font-size="17.1" fill="#000" font-style="italic">Malassezia</text>
<rect x="533.9" y="1610.2" width="19.1" height="19" fill="#1f78b4"/>
<text x="575.5" y="1624.3" font-size="17.1" fill="#000" font-style="italic">Neosartorya</text>
<rect x="533.9" y="1649.2" width="19.1" height="19" fill="#b2df8a"/>
<text x="575.5" y="1663" font-size="17.1" fill="#000" font-style="italic">Saccharomyces</text>
<rect x="533.9" y="1688.2" width="19.1" height="19" fill="#33a02c"/>
<text x="575.5" y="1704.2" font-size="17.1" fill="#000" font-style="italic">Penicillium</text>
<rect x="533.9" y="1727.2" width="19.1" height="19" fill="#fb9a99"/>
<text x="575.5" y="1742" font-size="17.1" fill="#000" font-style="italic">Aspergillus</text>
<rect x="533.9" y="1766.2" width="19.1" height="19" fill="#e31a1c"/>
<text x="575.5" y="1780.2" font-size="17.1" fill="#000" font-style="italic">Coprinopsis</text>
<rect x="533.9" y="1805.2" width="19.1" height="19" fill="#fdbf6f"/>
<text x="575.5" y="1818.6" font-size="17.1" fill="#000" font-style="italic">Neurospora</text>
<rect x="533.9" y="1844.2" width="19.1" height="19" fill="#ff7f00"/>
<text x="575.5" y="1857.7" font-size="17.1" fill="#000" font-style="italic">Clavispora</text>
<rect x="533.9" y="1883.2" width="19.1" height="19" fill="#cab2d6"/>
<text x="575.5" y="1896.6" font-size="17.1" fill="#000" font-style="italic">Lodderomyces</text>
<rect x="533.9" y="1922.2" width="19.1" height="19" fill="#6a3d9a"/>
<text x="575.5" y="1935.8" font-size="17.1" fill="#000" font-style="italic">Schizophyllum</text>
<rect x="533.9" y="1961.2" width="19.1" height="19" fill="#bdbdbd"/>
<text x="575.5" y="1975.7" font-size="17.1" fill="#000">other</text>
</g>
<g id="panel_f">
<text x="837.7" y="1536.55" font-size="42" fill="#000" font-weight="bold">f</text>
<text x="995.8" y="1532.6" font-size="25.2" fill="#000" textLength="511.4">Viral species (top 25) grouped by center</text>
<line x1="1033.7" y1="1903.18" x2="1350.9" y2="1903.18" stroke="#eeeeee" stroke-width="1.3"/>
<line x1="1033.7" y1="1821.06" x2="1350.9" y2="1821.06" stroke="#eeeeee" stroke-width="1.3"/>
<line x1="1033.7" y1="1738.94" x2="1350.9" y2="1738.94" stroke="#eeeeee" stroke-width="1.3"/>
<line x1="1033.7" y1="1656.82" x2="1350.9" y2="1656.82" stroke="#eeeeee" stroke-width="1.3"/>
<line x1="1033.7" y1="1574.7" x2="1350.9" y2="1574.7" stroke="#eeeeee" stroke-width="1.3"/>
<line x1="1033.7" y1="1985.3" x2="1350.9" y2="1985.3" stroke="#444444" stroke-width="1.8"/>
<rect x="1044.2" y="1574.69" width="84.8" height="49.15" fill="#bdbdbd"/>
<rect x="1044.2" y="1623.78" width="84.8" height="10.25" fill="#d5a55c"/>
<rect x="1044.2" y="1633.98" width="84.8" height="18.22" fill="#865fab"/>
<rect x="1044.2" y="1652.16" width="84.8" height="15.03" fill="#b295c7"/>
<rect x="1044.2" y="1667.14" width="84.8" height="38.31" fill="#fcb86c"/>
<rect x="1044.2" y="1705.4" width="84.8" height="12.16" fill="#f06c46"/>
<rect x="1044.2" y="1717.51" width="84.8" height="27.95" fill="#e4211f"/>
<rect x="1044.2" y="1745.41" width="84.8" height="4.99" fill="#ed4f50"/>
<rect x="1044.2" y="1750.35" width="84.8" height="5.79" fill="#f88a89"/>
<rect x="1044.2" y="1756.09" width="84.8" height="3.24" fill="#b89c75"/>
<rect x="1044.2" y="1759.27" width="84.8" height="43.41" fill="#5d9f43"/>
<rect x="1044.2" y="1802.63" width="84.8" height="6.74" fill="#53b044"/>
<rect x="1044.2" y="1809.33" width="84.8" height="5.79" fill="#8dcd6f"/>
<rect x="1044.2" y="1815.07" width="84.8" height="56.48" fill="#99ce91"/>
<rect x="1044.2" y="1871.49" width="84.8" height="11.21" fill="#2a7fb8"/>
<rect x="1044.2" y="1882.65" width="84.8" height="79.43" fill="#68a7cd"/>
<rect x="1044.2" y="1962.04" width="84.8" height="23.32" fill="#a6cee3"/>
<rect x="1150" y="1574.69" width="84.9" height="100.79" fill="#bdbdbd"/>
<rect x="1150" y="1675.43" width="84.9" height="13.44" fill="#b15928"/>
<rect x="1150" y="1688.82" width="84.9" height="15.03" fill="#f8f190"/>
<rect x="1150" y="1703.8" width="84.9" height="13.76" fill="#c7b699"/>
<rect x="1150" y="1717.51" width="84.9" height="2.92" fill="#b295c7"/>
<rect x="1150" y="1720.38" width="84.9" height="19.5" fill="#d5a7a9"/>
<rect x="1150" y="1739.83" width="84.9" height="18.54" fill="#ed9047"/>
<rect x="1150" y="1758.32" width="84.9" height="25.24" fill="#ff870e"/>
<rect x="1150" y="1783.5" width="84.9" height="26.51" fill="#fea441"/>
<rect x="1150" y="1809.96" width="84.9" height="9.93" fill="#f06c46"/>
<rect x="1150" y="1819.85" width="84.9" height="19.5" fill="#f88a89"/>
<rect x="1150" y="1839.29" width="84.9" height="8.02" fill="#b89c75"/>
<rect x="1150" y="1847.26" width="84.9" height="11.85" fill="#5d9f43"/>
<rect x="1150" y="1859.06" width="84.9" height="42.77" fill="#8dcd6f"/>
<rect x="1150" y="1901.78" width="84.9" height="5.47" fill="#99ce91"/>
<rect x="1150" y="1907.2" width="84.9" height="78.16" fill="#569fa4"/>
<rect x="1255.9" y="1574.69" width="84.8" height="39.58" fill="#bdbdbd"/>
<rect x="1255.9" y="1614.22" width="84.8" height="1.96" fill="#d5a55c"/>
<rect x="1255.9" y="1616.13" width="84.8" height="5.47" fill="#835d9a"/>
<rect x="1255.9" y="1621.55" width="84.8" height="11.21" fill="#b295c7"/>
<rect x="1255.9" y="1632.71" width="84.8" height="21.41" fill="#f06c46"/>
<rect x="1255.9" y="1654.07" width="84.8" height="36.08" fill="#e4211f"/>
<rect x="1255.9" y="1690.09" width="84.8" height="12.16" fill="#ed4f50"/>
<rect x="1255.9" y="1702.21" width="84.8" height="12.16" fill="#f88a89"/>
<rect x="1255.9" y="1714.32" width="84.8" height="27.79" fill="#b89c75"/>
<rect x="1255.9" y="1742.06" width="84.8" height="14.08" fill="#53b044"/>
<rect x="1255.9" y="1756.09" width="84.8" height="13.12" fill="#8dcd6f"/>
<rect x="1255.9" y="1769.16" width="84.8" height="67" fill="#99ce91"/>
<rect x="1255.9" y="1836.11" width="84.8" height="19.82" fill="#2a7fb8"/>
<rect x="1255.9" y="1855.87" width="84.8" height="88.36" fill="#68a7cd"/>
<rect x="1255.9" y="1944.18" width="84.8" height="41.18" fill="#a6cee3"/>
<text x="1032.3" y="1990.2" font-size="14" fill="#5e5e5e" text-anchor="end">0</text>
<text x="1032.3" y="1908.08" font-size="14" fill="#5e5e5e" text-anchor="end">20</text>
<text x="1032.3" y="1825.96" font-size="14" fill="#5e5e5e" text-anchor="end">40</text>
<text x="1032.3" y="1743.84" font-size="14" fill="#5e5e5e" text-anchor="end">60</text>
<text x="1032.3" y="1661.72" font-size="14" fill="#5e5e5e" text-anchor="end">80</text>
<text x="1032.3" y="1579.6" font-size="14" fill="#5e5e5e" text-anchor="end">100</text>
<text transform="translate(977,1768.5) rotate(-90)" font-size="18.6" fill="#444" text-anchor="middle" dy="6.5">Percentage</text>
<text transform="translate(1087,2017.3) rotate(45)" font-size="31" fill="#444" text-anchor="middle" dy="11.3">G</text>
<text transform="translate(1189.4,2021.2) rotate(45)" font-size="31" fill="#444" text-anchor="middle" dy="11.3">K</text>
<text transform="translate(1298.2,2024.6) rotate(45)" font-size="31" fill="#444" text-anchor="middle" dy="11.3">L</text>
<rect x="1406.5" y="1575.9" width="15.4" height="15.4" fill="#a6cee3"/>
<text x="1439.7" y="1587.3" font-size="13.85" fill="#000" xml:space="preserve"><tspan font-style="italic">Staphylococcus</tspan> phage SAP-2</text>
<rect x="1406.5" y="1608.45" width="15.4" height="15.4" fill="#68a7cd"/>
<text x="1439.7" y="1619.96" font-size="13.85" fill="#000" xml:space="preserve"><tspan font-style="italic">Listeria</tspan> phage B025</text>
<rect x="1406.5" y="1641" width="15.4" height="15.4" fill="#2a7fb8"/>
<text x="1439.7" y="1652.62" font-size="13.85" fill="#000" xml:space="preserve"><tspan font-style="italic">Staphylococcus</tspan> phage 66</text>
<rect x="1406.5" y="1673.55" width="15.4" height="15.4" fill="#569fa4"/>
<text x="1439.7" y="1685.29" font-size="13.85" fill="#000" xml:space="preserve"><tspan font-style="italic">Mycobacterium</tspan> phage Porky</text>
<rect x="1406.5" y="1706.1" width="15.4" height="15.4" fill="#99ce91"/>
<text x="1439.7" y="1717.95" font-size="13.85" fill="#000" xml:space="preserve"><tspan font-style="italic">Enterococcus</tspan> phage phiEF24C</text>
<rect x="1406.5" y="1738.65" width="15.4" height="15.4" fill="#8dcd6f"/>
<text x="1439.7" y="1750.61" font-size="13.85" fill="#000" xml:space="preserve"><tspan font-style="italic">Staphylococcus</tspan> phage PH15</text>
<rect x="1406.5" y="1771.2" width="15.4" height="15.4" fill="#53b044"/>
<text x="1439.7" y="1783.27" font-size="13.85" fill="#000" xml:space="preserve"><tspan font-style="italic">Staphylococcus</tspan> phage P68</text>
<rect x="1406.5" y="1803.75" width="15.4" height="15.4" fill="#5d9f43"/>
<text x="1439.7" y="1815.94" font-size="13.85" fill="#000" xml:space="preserve"><tspan font-style="italic">Lactobacillus</tspan> phage Lc-Nu</text>
<rect x="1406.5" y="1836.3" width="15.4" height="15.4" fill="#b89c75"/>
<text x="1439.7" y="1848.6" font-size="13.85" fill="#000" xml:space="preserve"><tspan font-style="italic">Staphylococcus</tspan> phage 53 sensu lato</text>
<rect x="1406.5" y="1868.85" width="15.4" height="15.4" fill="#f88a89"/>
<text x="1439.7" y="1881.26" font-size="13.85" fill="#000" xml:space="preserve"><tspan font-style="italic">Staphylococcus</tspan> phage CNPH82</text>
<rect x="1406.5" y="1901.4" width="15.4" height="15.4" fill="#ed4f50"/>
<text x="1439.7" y="1913.92" font-size="13.85" fill="#000" xml:space="preserve"><tspan font-style="italic">Staphylococcus</tspan> phage 44AHJD</text>
<rect x="1406.5" y="1933.95" width="15.4" height="15.4" fill="#e4211f"/>
<text x="1439.7" y="1946.59" font-size="13.85" fill="#000" xml:space="preserve"><tspan font-style="italic">Lactobacillus</tspan> phage Lv-1</text>
<rect x="1406.5" y="1966.5" width="15.4" height="15.4" fill="#f06c46"/>
<text x="1439.7" y="1979.25" font-size="13.85" fill="#000" xml:space="preserve"><tspan font-style="italic">Staphylococcus</tspan> phage 2638A</text>
<rect x="1719.6" y="1574" width="15.4" height="15.4" fill="#fcb86c"/>
<text x="1752.7" y="1584.4" font-size="13.85" fill="#000" xml:space="preserve"><tspan font-style="italic">Lactobacillus</tspan> phage Lrm1</text>
<rect x="1719.6" y="1606.71" width="15.4" height="15.4" fill="#fea441"/>
<text x="1752.7" y="1617.2" font-size="13.85" fill="#000" xml:space="preserve"><tspan font-style="italic">Mycobacterium</tspan> phage Omega</text>
<rect x="1719.6" y="1639.42" width="15.4" height="15.4" fill="#ff870e"/>
<text x="1752.7" y="1650" font-size="13.85" fill="#000" xml:space="preserve"><tspan font-style="italic">Mycobacterium</tspan> phage Halo</text>
<rect x="1719.6" y="1672.13" width="15.4" height="15.4" fill="#ed9047"/>
<text x="1752.7" y="1682.8" font-size="13.85" fill="#000" xml:space="preserve"><tspan font-style="italic">Mycobacterium</tspan> phage BPs</text>
<rect x="1719.6" y="1704.84" width="15.4" height="15.4" fill="#d5a7a9"/>
<text x="1752.7" y="1715.6" font-size="13.85" fill="#000" xml:space="preserve"><tspan font-style="italic">Burkholderia</tspan> phage Bcep22</text>
<rect x="1719.6" y="1737.55" width="15.4" height="15.4" fill="#b295c7"/>
<text x="1752.7" y="1748.4" font-size="13.85" fill="#000" xml:space="preserve"><tspan font-style="italic">Enterococcus</tspan> phage phiFL3A</text>
<rect x="1719.6" y="1770.26" width="15.4" height="15.4" fill="#865fab"/>
<text x="1752.7" y="1781.21" font-size="13.85" fill="#000" xml:space="preserve"><tspan font-style="italic">Lactobacillus</tspan> phage A2</text>
<rect x="1719.6" y="1802.97" width="15.4" height="15.4" fill="#835d9a"/>
<text x="1752.7" y="1814.01" font-size="13.85" fill="#000" xml:space="preserve"><tspan font-style="italic">Staphylococcus</tspan> phage 187</text>
<rect x="1719.6" y="1835.68" width="15.4" height="15.4" fill="#c7b699"/>
<text x="1752.7" y="1846.81" font-size="13.85" fill="#000" xml:space="preserve"><tspan font-style="italic">Mycobacterium</tspan> phage 244</text>
<rect x="1719.6" y="1868.39" width="15.4" height="15.4" fill="#f8f190"/>
<text x="1752.7" y="1879.61" font-size="13.85" fill="#000" xml:space="preserve"><tspan font-style="italic">Mycobacterium</tspan> phage Cjw1</text>
<rect x="1719.6" y="1901.1" width="15.4" height="15.4" fill="#d5a55c"/>
<text x="1752.7" y="1912.41" font-size="13.85" fill="#000" xml:space="preserve"><tspan font-style="italic">Staphylococcus</tspan> phage EW</text>
<rect x="1719.6" y="1933.81" width="15.4" height="15.4" fill="#b15928"/>
<text x="1752.7" y="1945.21" font-size="13.85" fill="#000" xml:space="preserve"><tspan font-style="italic">Mycobacterium</tspan> phage L5</text>
<rect x="1719.6" y="1966.52" width="15.4" height="15.4" fill="#bdbdbd"/>
<text x="1752.7" y="1979.12" font-size="13.85" fill="#000" xml:space="preserve">other</text>
</g>
</svg>
</body></html>
